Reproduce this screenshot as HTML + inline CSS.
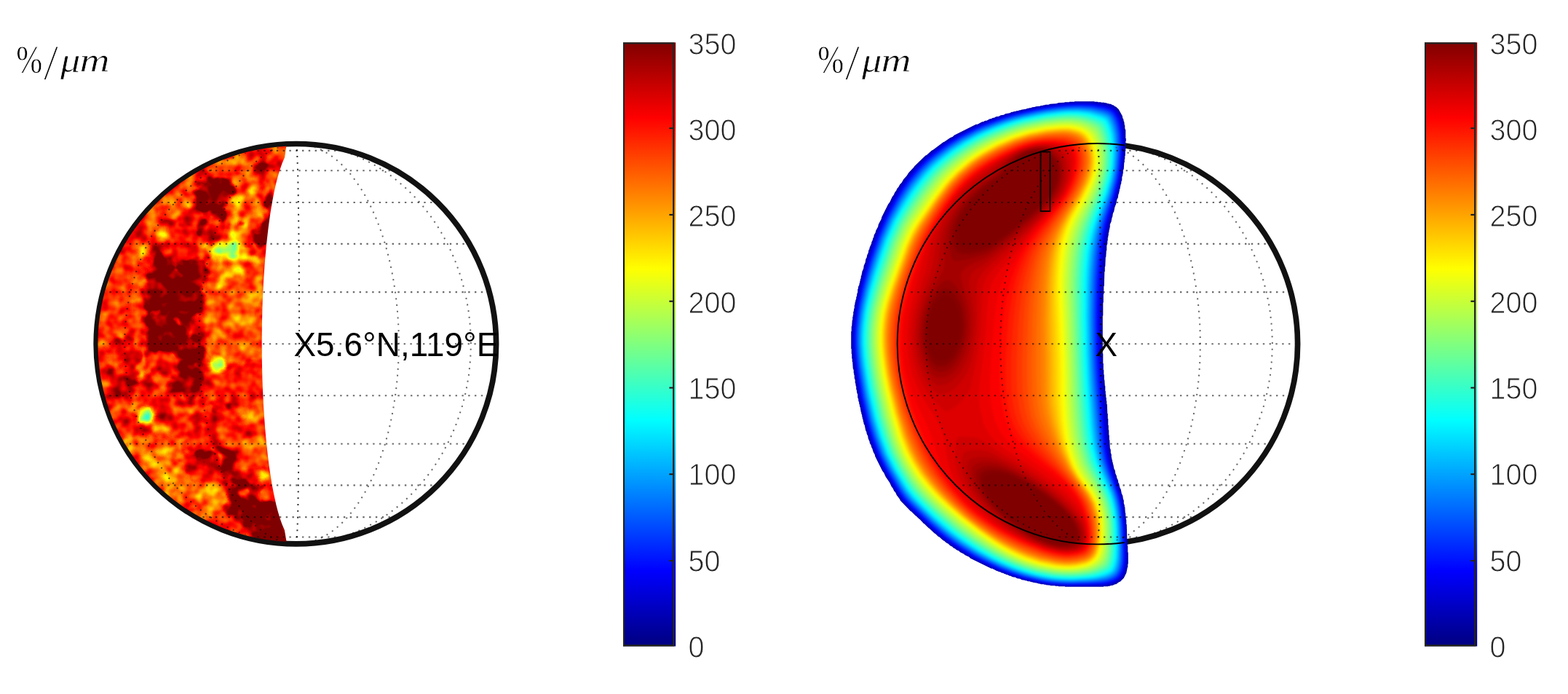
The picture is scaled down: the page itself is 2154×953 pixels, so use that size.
<!DOCTYPE html>
<html lang="en"><head><meta charset="utf-8"><title>Figure</title>
<style>
html,body{margin:0;padding:0;background:#fff}
body{width:2154px;height:953px;overflow:hidden}
svg{display:block}
.gp{stroke-width:2.1px;stroke-dasharray:2.4 6.4;stroke-opacity:.58}
.gm{stroke-width:2px;stroke-dasharray:2 6.8;stroke-opacity:.6}
.gc{stroke-width:2px;stroke-dasharray:2 6.85;stroke-opacity:.82}
.tk{font-family:"Liberation Sans",Arial,Helvetica,sans-serif;font-size:43.2px;fill:#262626;stroke:#fff;stroke-width:1px}
.lb{font-family:"Liberation Sans",Arial,Helvetica,sans-serif;font-size:45.8px;fill:#000;letter-spacing:.15px}
.tx{font-family:"Liberation Serif","DejaVu Serif",serif;fill:#000;stroke:#fff;stroke-width:.7px}
</style></head>
<body>
<svg width="2154" height="953" viewBox="0 0 2154 953">
<defs>
<linearGradient id="jet" x1="0" y1="1" x2="0" y2="0"><stop offset="0" stop-color="#000080"/><stop offset="0.125" stop-color="#0000ff"/><stop offset="0.375" stop-color="#00ffff"/><stop offset="0.625" stop-color="#ffff00"/><stop offset="0.875" stop-color="#ff0000"/><stop offset="1" stop-color="#800000"/></linearGradient>
<linearGradient id="jetb" gradientUnits="userSpaceOnUse" x1="0" y1="887.5" x2="0" y2="58.3"><stop offset="0" stop-color="#262613"/><stop offset="0.125" stop-color="#282808"/><stop offset="0.375" stop-color="#2a1414"/><stop offset="0.625" stop-color="#10102a"/><stop offset="0.875" stop-color="#142a2a"/><stop offset="1" stop-color="#1c2626"/></linearGradient>
<clipPath id="rthin"><rect x="1100" y="0" width="445" height="953"/></clipPath>
<clipPath id="lune"><path d="M393.6 743.7A271.8 271.8 0 0 1 393.3 200.7L391.1 216.0L387.4 224.7L384.4 233.4L381.8 242.0L379.5 250.7L377.5 259.4L375.7 268.1L374.1 276.7L372.6 285.4L371.2 294.1L370.0 302.8L368.8 311.5L367.8 320.1L366.8 328.8L365.9 337.5L365.1 346.2L364.3 354.8L363.6 363.5L363.0 372.2L362.4 380.9L361.9 389.6L361.5 398.2L361.1 406.9L360.7 415.6L360.4 424.3L360.2 432.9L360.0 441.6L359.9 450.3L359.8 459.0L359.7 467.7L359.7 476.3L359.8 485.0L359.8 493.7L360.0 502.4L360.2 511.1L360.4 519.7L360.7 528.4L361.1 537.1L361.5 545.8L361.9 554.4L362.4 563.1L363.0 571.8L363.6 580.5L364.3 589.2L365.0 597.8L365.9 606.5L366.8 615.2L367.7 623.9L368.8 632.5L369.9 641.2L371.2 649.9L372.5 658.6L374.0 667.3L375.7 675.9L377.5 684.6L379.4 693.3L381.7 702.0L384.2 710.6L387.2 719.3L390.9 728.0Z"/></clipPath>
<filter id="lwarp" filterUnits="userSpaceOnUse" x="90" y="160" width="350" height="625" color-interpolation-filters="sRGB"><feGaussianBlur in="SourceGraphic" stdDeviation="2.6" result="b"/><feTurbulence type="fractalNoise" baseFrequency="0.055" numOctaves="2" seed="3" result="w"/><feDisplacementMap in="b" in2="w" scale="24" xChannelSelector="R" yChannelSelector="G"/></filter>
<filter id="lsoft" filterUnits="userSpaceOnUse" x="90" y="160" width="350" height="625" color-interpolation-filters="sRGB"><feGaussianBlur in="SourceGraphic" stdDeviation="2.4" result="b"/><feTurbulence type="fractalNoise" baseFrequency="0.07" numOctaves="1" seed="5" result="w"/><feDisplacementMap in="b" in2="w" scale="6" xChannelSelector="R" yChannelSelector="G"/></filter>
<filter id="lmap" filterUnits="userSpaceOnUse" x="90" y="160" width="350" height="625" color-interpolation-filters="sRGB"><feTurbulence type="fractalNoise" baseFrequency="0.06" numOctaves="2" seed="11" result="t"/><feColorMatrix in="t" type="matrix" values="1 0 0 0 0 1 0 0 0 0 1 0 0 0 0 0 0 0 0 1" result="n"/><feComposite in="SourceGraphic" in2="n" operator="arithmetic" k1="0" k2="1" k3="0.25" k4="-0.125" result="s"/><feComponentTransfer in="s"><feFuncR type="table" tableValues="0 0 0 0 0 0 0 0 0 0 0 0 0 0.125 0.25 0.375 0.5 0.625 0.75 0.875 1 1 1 1 1 1 1 1 1 0.875 0.75 0.625 0.5 0.5 0.5 0.5 0.5 0.5 0.5 0.5 0.5 0.5 0.5 0.5 0.5 0.5 0.5 0.5 0.5"/><feFuncG type="table" tableValues="0 0 0 0 0 0.125 0.25 0.375 0.5 0.625 0.75 0.875 1 1 1 1 1 1 1 1 1 0.875 0.75 0.625 0.5 0.375 0.25 0.125 0 0 0 0 0 0 0 0 0 0 0 0 0 0 0 0 0 0 0 0 0"/><feFuncB type="table" tableValues="0.5 0.625 0.75 0.875 1 1 1 1 1 1 1 1 1 0.875 0.75 0.625 0.5 0.375 0.25 0.125 0 0 0 0 0 0 0 0 0 0 0 0 0 0 0 0 0 0 0 0 0 0 0 0 0 0 0 0 0"/></feComponentTransfer></filter>
<clipPath id="rclip"><path d="M1476.2 139.2l27 0 .6 .5 4 0 .4 .5 4 0 .6 .5 4 0 .4 .5 2 0 2.6 1 1.4 0 .6 .5 2 0 2.4 1.5 1 0 2.6 2 1.4 .5 3.6 3.5 5 9 .5 3 1 1.6 .5 3 .5 .4 .5 4.6 .5 .4 0 4 1 2.6 0 11 .5 .4 0 1.6 0 2-.5 .4 0 13-.5 .6 0 6-.5 .4 0 4-.5 .6 0 4-.5 .4-.5 8.6-1 2.4 0 4-.5 .6 0 2-1 2.4 0 4-1 2.6 0 2-1 2.4 0 1.6-.5 .4 0 2-1 2.6 0 2-.5 .4 0 1.6-1 2.4-.5 4-1.5 3-1 5.6-2 5-1 5.4-1.5 3-.5 4-1 2.6 0 1.4-.5 .6 0 2-2 4.4 0 4-.5 .6 0 2-.5 .4-.5 4-.5 .6 0 3.4-.5 .6 0 2-.5 .4 0 4-.5 .6 0 4-1 2.4 0 6.6-.5 .4-.5 8.6-.5 .4-.5 12.6-.5 .4 0 6.6-.5 .4-.5 19.6-.5 .4 0 10.6-.5 .4 0 11-.5 .6 0 17.4-.5 .6 0 51.4 .5 .6 0 13 .5 .4 0 8.6 .5 .4 0 6 .5 .6 0 6.4 .5 .6 .5 8 .5 .4 0 6.6 .5 .4 0 4 .5 .6 0 4 .5 .4 0 4 .5 .6 0 4 .5 .4 .5 12.6 .5 .4 0 6.6 .5 .4 0 8.6 .5 .4 0 6 .5 .6 0 6.4 .5 .6 0 6 .5 .4 .5 11 1 2.6 0 4 1 2.4 0 4 .5 .6 0 2 .5 .4 .5 3.6 .5 .4 0 2 .5 .6 1 5.4 1.5 3 .5 4 1.5 3 .5 3 1.5 3 .5 3.6 1 1.4 1 5 1.5 3 1 5.6 1.5 3 .5 4 1 2.4 0 4 1 2.6 0 2 .5 .4 .5 8 .5 .6 0 4 .5 .4 0 4 .5 .6 0 6 .5 .4 .5 20 .5 .6 0 8.4 .5 .6 0 8.4 .5 .6 0 15.4-.5 .6 0 4-.5 .4-1.5 7.6-3.5 7-5 5-1.6 .5-4 3-1.4 0-3 1.5-3.6 .5-.4 .5-2 0-.6 .5-6 0-.4 .5-52.6 0-.4-.5-8.6 0-.4-.5-4 0-.6-.5-6 0-.4-.5-6-.5-.6-.5-2 0-.4-.5-4 0-.6-.5-3.4-.5-.6-.5-6.4-1-.6-.5-1.4 0-2.6-1-2 0-2.4-1-1.6 0-.4-.5-4-.5-2.6-1.5-4-.5-2.4-1.5-4-.5-2.6-1.5-1.4 0-2.6-1.5-1.4 0-1.6-1-1 0-2.4-1.5-1.6 0-2.4-1.5-1.6 0-1.4-1-1 0-6.6-3.5-1.4 0-28.6-14-2-2-5.4-2.5-2.6-2-3.4-1.5-3-2.5-2.6-1-2.4-2-1.6-.5-2-2-3-1.5-2.4-2.5-3-1.5-2.6-2.5-1.4-.5-5.6-5-1.4-.5-4-4-.6 0-8-7.5-.4 0-6-6-.6 0-6-6.5-.4 0-4.6-4.5-.4 0-6-6-.6 0-14.5-15.1-.5-1.4-4.5-6-1.5-3.6-2-2-1.5-3.4-2-2.6-2.5-5.4-5.5-8-2.5-5.6-2-2.4-10-20-.5-2.6-2-3.4-1.5-5-1-1.6-.5-2.4-2-3.6 0-1.4-2-4.6-.5-3.4-1.5-3-.5-3-1-1.6-1.5-7.4-1-1.6-.5-3-.5-.4 0-2-1-2.6 0-1.4-.5-.6 0-2-1-2.4 0-1.6-.5-.4-1-6.6-.5-.4-.5-3.6-.5-.4 0-2-1-2.6 0-2-1-2.4 0-4-1-2.6-.5-4-.5-.4 0-4-.5-.6-.5-4-.5-.4 0-4-1-2.6 0-4-.5-.4 0-2-.5-.6 0-4-1-2.4-.5-8.6-.5-.4 0-4-.5-.6 0-6-.5-.4 0-6.6-.5-.4 0-23.6 .5-.4 0-6.6 .5-.4 .5-8 .5-.6 0-4 .5-.4 0-2 .5-.6 0-4 .5-.4 .5-4 .5-.6 0-4 .5-.4 .5-4 .5-.6 0-1.4 1-2.6 0-2 1-2.4 0-2 1-2.6 0-4 .5-.4 .5-3.6 1-1.4 .5-3 .5-.6 0-2 .5-.4 0-1.6 1-2.4 0-2 1-2.6 0-1.4 .5-.6 0-2 2-4.4 .5-4 2-4.6 .5-4 1.5-3 .5-3 1.5-3 .5-3.4 1-1.6 .5-2.4 2.5-5.6 0-1.4 1.5-3 .5-2.6 1-1.4 .5-3 2-3.6 .5-2.4 3-5.6 .5-3 4-7.4 .5-2.6 9-18 2-2.4 3.5-7.6 2-2.4 1.5-3.6 2-2.4 1-2.6 2.5-3 1.5-3 2.5-2.4 2.5-4.6 4.5-5 2.5-4 7.5-8 0-.4 15.5-15.1 2-1 6.6-6 2-1 14-10.5 1.4-.5 8-5.5 3.6-1.5 2-2 30-15 2 0 6.4-3.5 1.6 0 2.4-1.5 2 0 4.6-2.5 1.4 0 3-1.5 1.6 0 2.4-1.5 4-.5 2.6-1.5 4-.5 2.4-1.5 6-1 2.6-1.5 2 0 .4-.5 3.6-.5 .4-.5 2 0 2.6-1 1.4 0 .6-.5 6.4-1 2.6-1 1.4 0 .6-.5 2 0 2.4-1 4-.5 .6-.5 6-.5 .4-.5 4-.5 .6-.5 2 0 .4-.5 4 0 2.6-1 8.4-.5 2.6-1 8.4-.5 .6-.5 6 0 .4-.5 6.6 0z"/></clipPath>
<filter id="rblur" filterUnits="userSpaceOnUse" x="1140" y="110" width="440" height="730" color-interpolation-filters="sRGB"><feGaussianBlur stdDeviation="1.6"/></filter>
</defs>
<rect width="100%" height="100%" fill="#fff"/>
<g id="left">
<circle cx="406.9" cy="472.2" r="274.7" fill="none" stroke="#111" stroke-width="7.7"/>
<g clip-path="url(#lune)"><g filter="url(#lmap)"><g filter="url(#lwarp)">
<rect x="60" y="130" width="410" height="685" fill="#959595"/>
<circle cx="406.9" cy="472.2" r="260.7" fill="none" stroke="#8d8d8d" stroke-width="30" stroke-opacity=".6"/>
<path fill="#878787" d="M286.9 352.0L360.3 347.6L363.2 470.0L281.0 470.0L276.6 432.8L281.0 396.1Z"/>
<ellipse cx="323.6" cy="421.1" rx="30.0" ry="38.0" fill="#858585"/>
<path fill="#898989" d="M279.2 465.0L361.5 465.0L361.5 498.8L311.6 498.8L282.2 482.6Z"/>
<ellipse cx="340.9" cy="485.6" rx="18.0" ry="11.0" fill="#838383"/>
<path fill="#909090" d="M282.2 509.1L361.5 509.1L364.4 605.0L282.2 605.0Z"/>
<path fill="#8c8c8c" d="M140.0 403.4L162.0 352.0L184.1 330.0L201.7 330.0L198.7 366.7L195.8 418.1L198.7 470.0L140.0 470.0Z"/>
<path fill="#9b9b9b" d="M150.0 465.0L188.2 465.0L191.1 509.1L188.2 541.4L179.4 547.2L150.0 547.2Z"/>
<ellipse cx="194.1" cy="501.7" rx="7.0" ry="18.0" fill="#818181"/>
<ellipse cx="219.0" cy="520.8" rx="13.0" ry="11.0" fill="#868686"/>
<path fill="#8a8a8a" d="M216.7 283.1L253.4 250.8L297.5 224.4L326.9 211.2L341.6 212.6L326.9 243.5L274.0 243.5L262.2 277.2L241.7 297.8L216.7 306.6Z"/>
<path fill="#888888" d="M321.0 243.5L369.5 243.5L368.0 335.0L304.8 335.0L312.2 289.0Z"/>
<path fill="#818181" d="M175.0 600.0L257.2 600.0L251.4 636.7L269.0 661.7L307.2 670.5L311.6 691.1L286.6 711.6L257.2 695.5L219.1 663.2L192.6 633.8L175.0 613.2Z"/>
<ellipse cx="348.3" cy="625.0" rx="22.0" ry="24.0" fill="#898989"/>
<path fill="#aeaeae" d="M274.0 253.7L285.7 244.9L309.2 243.5L319.5 253.7L318.1 268.4L312.2 277.2L309.2 289.0L303.4 300.7L291.6 297.8L288.7 289.0L276.9 286.1L269.6 277.2L269.6 264.0Z"/>
<path fill="#aeaeae" d="M274.0 297.8L282.8 296.3L287.2 306.6L285.7 319.8L276.9 322.8L271.1 316.9L271.1 306.6Z"/>
<path fill="#aeaeae" d="M366.5 264.0L379.7 264.0L378.3 283.1L376.8 312.5L375.3 335.0L353.3 335.0L348.9 324.2L356.2 309.6L364.3 297.8L366.5 283.1Z"/>
<path fill="#aaaaaa" d="M350.4 220.0L365.0 221.4L370.9 228.8L365.0 233.2L353.3 231.7L348.9 225.8Z"/>
<ellipse cx="249.0" cy="306.6" rx="6.0" ry="4.0" fill="#a6a6a6"/>
<ellipse cx="331.3" cy="306.6" rx="8.0" ry="6.0" fill="#a4a4a4"/>
<path fill="#aeaeae" d="M206.1 341.7L222.2 340.3L228.1 359.4L242.8 363.8L257.5 352.0L279.5 353.5L283.9 374.1L279.5 396.1L276.6 418.1L272.2 432.8L261.9 441.6L257.5 462.2L256.0 471.0L204.6 471.0L201.7 447.5L197.3 425.5L198.7 403.4L203.2 381.4L204.6 359.4Z"/>
<path fill="#aeaeae" d="M204.3 463.5L271.9 463.5L282.2 473.8L276.3 482.6L273.4 501.7L276.3 523.7L274.8 541.4L252.8 544.3L238.1 535.5L235.2 523.7L249.9 514.9L252.8 494.4L244.0 482.6L208.7 481.2L202.9 473.8Z"/>
<ellipse cx="296.9" cy="557.5" rx="8.0" ry="7.0" fill="#a6a6a6"/>
<ellipse cx="318.9" cy="553.1" rx="6.0" ry="6.0" fill="#a4a4a4"/>
<ellipse cx="182.3" cy="523.7" rx="10.0" ry="8.0" fill="#a3a3a3"/>
<ellipse cx="245.7" cy="347.6" rx="18.0" ry="9.0" fill="#919191"/>
<ellipse cx="244.3" cy="441.6" rx="7.0" ry="6.0" fill="#8e8e8e"/>
<ellipse cx="210.5" cy="431.3" rx="8.0" ry="5.0" fill="#919191"/>
<ellipse cx="242.8" cy="372.6" rx="6.0" ry="4.0" fill="#959595"/>
<path fill="#aeaeae" d="M261.7 623.5L271.9 619.1L292.5 620.6L298.4 626.4L292.5 633.8L270.5 634.5L263.1 630.8Z"/>
<path fill="#aeaeae" d="M296.9 611.7L307.2 610.3L316.0 626.4L323.3 638.2L324.8 649.9L316.0 658.7L307.2 655.8L302.8 644.1L304.2 629.4Z"/>
<path fill="#aeaeae" d="M318.9 661.7L336.6 658.7L351.2 663.2L360.0 673.4L370.3 688.1L383.5 689.6L395.3 714.6L404.1 746.9L351.2 746.9L343.9 729.2L329.2 717.5L316.0 702.8L313.1 682.2Z"/>
<ellipse cx="335.1" cy="680.8" rx="5.0" ry="5.0" fill="#959595"/>
</g><g filter="url(#lsoft)">
<path d="M313.8 344.8L354.8 277.2" stroke="#777777" stroke-width="7" stroke-linecap="round"/>
<path d="M313.8 344.8L328.3 277.2" stroke="#777777" stroke-width="7" stroke-linecap="round"/>
<path d="M313.8 344.8L306.0 391.7" stroke="#777777" stroke-width="9" stroke-linecap="round"/>
<path d="M313.8 344.8L335.3 378.5" stroke="#777777" stroke-width="6" stroke-linecap="round"/>
<path d="M313.8 344.8L281.0 338.8" stroke="#777777" stroke-width="10" stroke-linecap="round"/>
<path d="M313.8 344.8L353.0 359.4" stroke="#777777" stroke-width="6" stroke-linecap="round"/>
<path d="M313.8 344.8L298.6 374.1" stroke="#777777" stroke-width="6" stroke-linecap="round"/>
<ellipse cx="313.8" cy="344.8" rx="29.0" ry="15.0" fill="#717171"/>
<ellipse cx="307.8" cy="345.8" rx="12.0" ry="8.0" fill="#6a6a6a"/>
<ellipse cx="313.8" cy="344.8" rx="15.0" ry="11.0" fill="#5b5b5b"/>
<ellipse cx="222.6" cy="321.3" rx="10.8" ry="10.8" fill="#848484"/>
<ellipse cx="222.6" cy="321.3" rx="6.0" ry="6.0" fill="#6b6b6b"/>
<ellipse cx="348.9" cy="261.1" rx="10.8" ry="10.8" fill="#848484"/>
<ellipse cx="348.9" cy="261.1" rx="6.0" ry="6.0" fill="#717171"/>
<ellipse cx="331.3" cy="220.0" rx="10.8" ry="10.8" fill="#848484"/>
<ellipse cx="331.3" cy="220.0" rx="6.0" ry="6.0" fill="#818181"/>
<ellipse cx="328.3" cy="277.2" rx="9.0" ry="9.0" fill="#848484"/>
<ellipse cx="328.3" cy="277.2" rx="5.0" ry="5.0" fill="#787878"/>
<ellipse cx="353.3" cy="287.5" rx="9.0" ry="9.0" fill="#848484"/>
<ellipse cx="353.3" cy="287.5" rx="5.0" ry="5.0" fill="#808080"/>
<ellipse cx="257.8" cy="277.2" rx="9.0" ry="9.0" fill="#848484"/>
<ellipse cx="257.8" cy="277.2" rx="5.0" ry="5.0" fill="#777777"/>
<ellipse cx="224.1" cy="277.2" rx="9.0" ry="9.0" fill="#848484"/>
<ellipse cx="224.1" cy="277.2" rx="5.0" ry="5.0" fill="#727272"/>
<ellipse cx="194.3" cy="349.1" rx="10.8" ry="10.8" fill="#848484"/>
<ellipse cx="194.3" cy="349.1" rx="6.0" ry="6.0" fill="#737373"/>
<ellipse cx="191.4" cy="387.3" rx="10.8" ry="10.8" fill="#848484"/>
<ellipse cx="191.4" cy="387.3" rx="6.0" ry="6.0" fill="#777777"/>
<ellipse cx="176.7" cy="412.2" rx="9.0" ry="9.0" fill="#848484"/>
<ellipse cx="176.7" cy="412.2" rx="5.0" ry="5.0" fill="#7a7a7a"/>
<ellipse cx="353.0" cy="418.1" rx="9.0" ry="9.0" fill="#848484"/>
<ellipse cx="353.0" cy="418.1" rx="5.0" ry="5.0" fill="#757575"/>
<ellipse cx="298.3" cy="500.2" rx="12.5" ry="12.5" fill="#6c6c6c"/>
<ellipse cx="298.3" cy="500.2" rx="7.5" ry="7.5" fill="#5c5c5c"/>
<ellipse cx="201.4" cy="570.7" rx="12.5" ry="12.5" fill="#6c6c6c"/>
<ellipse cx="201.4" cy="570.7" rx="7.5" ry="8.0" fill="#585858"/>
<ellipse cx="340.9" cy="570.0" rx="12.6" ry="12.6" fill="#848484"/>
<ellipse cx="340.9" cy="570.0" rx="7.0" ry="7.0" fill="#6d6d6d"/>
<ellipse cx="260.1" cy="561.9" rx="22.0" ry="6.0" fill="#838383"/>
<ellipse cx="220.5" cy="586.9" rx="10.8" ry="10.8" fill="#848484"/>
<ellipse cx="220.5" cy="586.9" rx="6.0" ry="6.0" fill="#828282"/>
<ellipse cx="182.3" cy="559.0" rx="9.0" ry="9.0" fill="#848484"/>
<ellipse cx="182.3" cy="559.0" rx="5.0" ry="5.0" fill="#777777"/>
<ellipse cx="157.3" cy="494.4" rx="10.8" ry="10.8" fill="#848484"/>
<ellipse cx="157.3" cy="494.4" rx="6.0" ry="6.0" fill="#838383"/>
<ellipse cx="361.5" cy="652.9" rx="10.8" ry="10.8" fill="#848484"/>
<ellipse cx="361.5" cy="652.9" rx="6.0" ry="6.0" fill="#6c6c6c"/>
<ellipse cx="361.5" cy="680.8" rx="9.0" ry="9.0" fill="#848484"/>
<ellipse cx="361.5" cy="680.8" rx="5.0" ry="5.0" fill="#767676"/>
<ellipse cx="233.7" cy="673.4" rx="12.6" ry="12.6" fill="#848484"/>
<ellipse cx="233.7" cy="673.4" rx="7.0" ry="7.0" fill="#707070"/>
<ellipse cx="201.4" cy="627.9" rx="10.8" ry="10.8" fill="#848484"/>
<ellipse cx="201.4" cy="627.9" rx="6.0" ry="6.0" fill="#757575"/>
<ellipse cx="233.7" cy="614.7" rx="10.8" ry="10.8" fill="#848484"/>
<ellipse cx="233.7" cy="614.7" rx="6.0" ry="6.0" fill="#767676"/>
<ellipse cx="242.6" cy="644.1" rx="10.8" ry="10.8" fill="#848484"/>
<ellipse cx="242.6" cy="644.1" rx="6.0" ry="6.0" fill="#777777"/>
<ellipse cx="296.9" cy="672.0" rx="10.8" ry="10.8" fill="#848484"/>
<ellipse cx="296.9" cy="672.0" rx="6.0" ry="6.0" fill="#787878"/>
<ellipse cx="273.4" cy="685.2" rx="10.8" ry="10.8" fill="#848484"/>
<ellipse cx="273.4" cy="685.2" rx="6.0" ry="6.0" fill="#797979"/>
<ellipse cx="182.3" cy="614.7" rx="9.0" ry="9.0" fill="#848484"/>
<ellipse cx="182.3" cy="614.7" rx="5.0" ry="5.0" fill="#767676"/>
</g></g></g>
<clipPath id="gc406"><circle cx="406.9" cy="472.2" r="271.1"/></clipPath><g fill="none" stroke="#000" clip-path="url(#gc406)"><path class="gp" d="M335.8 737.5H478.0"/><path class="gp" d="M269.5 710.1H544.2"/><path class="gp" d="M212.7 666.4H601.1"/><path class="gp" d="M169.0 609.5H644.8"/><path class="gp" d="M141.6 543.3H672.2"/><path class="gp" d="M132.2 472.2H681.6"/><path class="gp" d="M141.6 401.1H672.2"/><path class="gp" d="M169.0 334.9H644.8"/><path class="gp" d="M212.7 278.0H601.1"/><path class="gp" d="M269.5 234.3H544.2"/><path class="gp" d="M335.8 206.9H478.0"/><path class="gm" d="M406.9 746.9L394.6 746.5L382.3 745.4L370.0 743.5L357.9 740.9L345.9 737.5L334.0 733.5L322.4 728.7L311.0 723.2L299.9 717.0L289.0 710.1L278.5 702.6L268.3 694.4L258.5 685.7L249.1 676.3L240.2 666.4L231.7 656.0L223.7 645.1L216.1 633.7L209.2 621.8L202.7 609.5L196.8 596.9L191.5 583.9L186.8 570.6L182.7 557.1L179.1 543.3L176.3 529.3L174.0 515.2L172.4 500.9L171.4 486.6L171.1 472.2L171.4 457.8L172.4 443.5L174.0 429.2L176.3 415.1L179.1 401.1L182.7 387.3L186.8 373.8L191.5 360.5L196.8 347.5L202.7 334.9L209.2 322.6L216.1 310.7L223.7 299.3L231.7 288.4L240.2 278.0L249.1 268.1L258.5 258.7L268.3 250.0L278.5 241.8L289.0 234.3L299.9 227.4L311.0 221.2L322.4 215.7L334.0 210.9L345.9 206.9L357.9 203.5L370.0 200.9L382.3 199.0L394.6 197.9L406.9 197.5"/><path class="gm" d="M406.9 746.9L399.9 746.5L392.9 745.4L386.0 743.5L379.1 740.9L372.3 737.5L365.6 733.5L359.0 728.7L352.5 723.2L346.2 717.0L340.0 710.1L334.1 702.6L328.3 694.4L322.7 685.7L317.4 676.3L312.3 666.4L307.5 656.0L303.0 645.1L298.7 633.7L294.8 621.8L291.1 609.5L287.8 596.9L284.7 583.9L282.1 570.6L279.7 557.1L277.7 543.3L276.1 529.3L274.8 515.2L273.9 500.9L273.4 486.6L273.2 472.2L273.4 457.8L273.9 443.5L274.8 429.2L276.1 415.1L277.7 401.1L279.7 387.3L282.1 373.8L284.7 360.5L287.8 347.5L291.1 334.9L294.8 322.6L298.7 310.7L303.0 299.3L307.5 288.4L312.3 278.0L317.4 268.1L322.7 258.7L328.3 250.0L334.1 241.8L340.0 234.3L346.2 227.4L352.5 221.2L359.0 215.7L365.6 210.9L372.3 206.9L379.1 203.5L386.0 200.9L392.9 199.0L399.9 197.9L406.9 197.5"/><path class="gc" d="M406.9 746.9L407.1 746.5L407.3 745.4L407.6 743.5L407.8 740.9L408.0 737.5L408.2 733.5L408.4 728.7L408.6 723.2L408.8 717.0L409.0 710.1L409.2 702.6L409.4 694.4L409.5 685.7L409.7 676.3L409.8 666.4L410.0 656.0L410.1 645.1L410.3 633.7L410.4 621.8L410.5 609.5L410.6 596.9L410.7 583.9L410.8 570.6L410.9 557.1L410.9 543.3L411.0 529.3L411.0 515.2L411.0 500.9L411.1 486.6L411.1 472.2L411.1 457.8L411.0 443.5L411.0 429.2L411.0 415.1L410.9 401.1L410.9 387.3L410.8 373.8L410.7 360.5L410.6 347.5L410.5 334.9L410.4 322.6L410.3 310.7L410.1 299.3L410.0 288.4L409.8 278.0L409.7 268.1L409.5 258.7L409.4 250.0L409.2 241.8L409.0 234.3L408.8 227.4L408.6 221.2L408.4 215.7L408.2 210.9L408.0 206.9L407.8 203.5L407.6 200.9L407.3 199.0L407.1 197.9L406.9 197.5"/><path class="gm" d="M406.9 746.9L414.3 746.5L421.6 745.4L428.9 743.5L436.2 740.9L443.4 737.5L450.5 733.5L457.4 728.7L464.2 723.2L470.9 717.0L477.4 710.1L483.7 702.6L489.7 694.4L495.6 685.7L501.2 676.3L506.6 666.4L511.6 656.0L516.4 645.1L520.9 633.7L525.1 621.8L529.0 609.5L532.5 596.9L535.7 583.9L538.5 570.6L540.9 557.1L543.0 543.3L544.8 529.3L546.1 515.2L547.1 500.9L547.7 486.6L547.8 472.2L547.7 457.8L547.1 443.5L546.1 429.2L544.8 415.1L543.0 401.1L540.9 387.3L538.5 373.8L535.7 360.5L532.5 347.5L529.0 334.9L525.1 322.6L520.9 310.7L516.4 299.3L511.6 288.4L506.6 278.0L501.2 268.1L495.6 258.7L489.7 250.0L483.7 241.8L477.4 234.3L470.9 227.4L464.2 221.2L457.4 215.7L450.5 210.9L443.4 206.9L436.2 203.5L428.9 200.9L421.6 199.0L414.3 197.9L406.9 197.5"/><path class="gm" d="M406.9 746.9L419.5 746.5L432.0 745.4L444.4 743.5L456.8 740.9L469.0 737.5L481.1 733.5L492.9 728.7L504.5 723.2L515.8 717.0L526.9 710.1L537.6 702.6L547.9 694.4L557.9 685.7L567.5 676.3L576.6 666.4L585.2 656.0L593.4 645.1L601.0 633.7L608.1 621.8L614.7 609.5L620.7 596.9L626.1 583.9L630.9 570.6L635.1 557.1L638.7 543.3L641.6 529.3L643.9 515.2L645.5 500.9L646.5 486.6L646.9 472.2L646.5 457.8L645.5 443.5L643.9 429.2L641.6 415.1L638.7 401.1L635.1 387.3L630.9 373.8L626.1 360.5L620.7 347.5L614.7 334.9L608.1 322.6L601.0 310.7L593.4 299.3L585.2 288.4L576.6 278.0L567.5 268.1L557.9 258.7L547.9 250.0L537.6 241.8L526.9 234.3L515.8 227.4L504.5 221.2L492.9 215.7L481.1 210.9L469.0 206.9L456.8 203.5L444.4 200.9L432.0 199.0L419.5 197.9L406.9 197.5"/></g>
<text x="403.4" y="489.3" class="lb">X5.6°N,119°E</text>
<text class="tx" font-size="50" font-style="normal" transform="translate(22.15 99.6) scale(0.862 1.094)">%</text><text class="tx" font-size="50" font-style="italic" transform="translate(62.40 107.9) scale(0.974 1.337)">/</text><text class="tx" font-size="50" font-style="italic" transform="translate(83.00 98.7) scale(1.09 0.955)">μ</text><text class="tx" font-size="50" font-style="italic" transform="translate(109.60 98.2) scale(1.14 0.911)">m</text>
<rect x="856.0" y="58.3" width="72.2" height="829.2" fill="url(#jet)"/><rect x="857.0" y="59.349999999999994" width="68.2" height="827.1" fill="none" stroke="url(#jetb)" stroke-width="2.1"/><text transform="translate(945.6 903.1) scale(.915 1)" class="tk">0</text><path d="M919.4 770.0h5" stroke="url(#jetb)" stroke-width="2.1"/><text transform="translate(945.6 784.8) scale(.915 1)" class="tk">50</text><path d="M919.4 651.2h5" stroke="url(#jetb)" stroke-width="2.1"/><text transform="translate(945.6 666.4) scale(.915 1)" class="tk">100</text><path d="M919.4 532.5h5" stroke="url(#jetb)" stroke-width="2.1"/><text transform="translate(945.6 548.0) scale(.915 1)" class="tk">150</text><path d="M919.4 413.7h5" stroke="url(#jetb)" stroke-width="2.1"/><text transform="translate(945.6 429.6) scale(.915 1)" class="tk">200</text><path d="M919.4 294.9h5" stroke="url(#jetb)" stroke-width="2.1"/><text transform="translate(945.6 311.3) scale(.915 1)" class="tk">250</text><path d="M919.4 176.1h5" stroke="url(#jetb)" stroke-width="2.1"/><text transform="translate(945.6 192.9) scale(.915 1)" class="tk">300</text><text transform="translate(945.6 74.5) scale(.915 1)" class="tk">350</text></g>
<g id="right">
<circle cx="1507.9" cy="472.2" r="274.7" fill="none" stroke="#111" stroke-width="7.7"/>
<g id="rheat" clip-path="url(#rclip)"><g filter="url(#rblur)" fill-rule="evenodd">
<rect x="1130" y="100" width="460" height="750" fill="#000095"/>
<path fill="#0000a4" d="M1476.2 139.2l27 0 .6 .5 4 0 .4 .5 4 0 .6 .5 4 0 .4 .5 2 0 2.6 1 1.4 0 .6 .5 2 0 2.4 1.5 1 0 2.6 2 1.4 .5 3.6 3.5 5 9 .5 3 1 1.6 .5 3 .5 .4 .5 4.6 .5 .4 0 4 1 2.6 0 11 .5 .4 0 1.6 0 2-.5 .4 0 13-.5 .6 0 6-.5 .4 0 4-.5 .6 0 4-.5 .4-.5 8.6-1 2.4 0 4-.5 .6 0 2-1 2.4 0 4-1 2.6 0 2-1 2.4 0 1.6-.5 .4 0 2-1 2.6 0 2-.5 .4 0 1.6-1 2.4-.5 4-1.5 3-1 5.6-2 5-1 5.4-1.5 3-.5 4-1 2.6 0 1.4-.5 .6 0 2-2 4.4 0 4-.5 .6 0 2-.5 .4-.5 4-.5 .6 0 3.4-.5 .6 0 2-.5 .4 0 4-.5 .6 0 4-1 2.4 0 6.6-.5 .4-.5 8.6-.5 .4-.5 12.6-.5 .4 0 6.6-.5 .4-.5 19.6-.5 .4 0 10.6-.5 .4 0 11-.5 .6 0 17.4-.5 .6 0 51.4 .5 .6 0 13 .5 .4 0 8.6 .5 .4 0 6 .5 .6 0 6.4 .5 .6 .5 8 .5 .4 0 6.6 .5 .4 0 4 .5 .6 0 4 .5 .4 0 4 .5 .6 0 4 .5 .4 .5 12.6 .5 .4 0 6.6 .5 .4 0 8.6 .5 .4 0 6 .5 .6 0 6.4 .5 .6 0 6 .5 .4 .5 11 1 2.6 0 4 1 2.4 0 4 .5 .6 0 2 .5 .4 .5 3.6 .5 .4 0 2 .5 .6 1 5.4 1.5 3 .5 4 1.5 3 .5 3 1.5 3 .5 3.6 1 1.4 1 5 1.5 3 1 5.6 1.5 3 .5 4 1 2.4 0 4 1 2.6 0 2 .5 .4 .5 8 .5 .6 0 4 .5 .4 0 4 .5 .6 0 6 .5 .4 .5 20 .5 .6 0 8.4 .5 .6 0 8.4 .5 .6 0 15.4-.5 .6 0 4-.5 .4-1.5 7.6-3.5 7-5 5-1.6 .5-4 3-1.4 0-3 1.5-3.6 .5-.4 .5-2 0-.6 .5-6 0-.4 .5-52.6 0-.4-.5-8.6 0-.4-.5-4 0-.6-.5-6 0-.4-.5-6-.5-.6-.5-2 0-.4-.5-4 0-.6-.5-3.4-.5-.6-.5-6.4-1-.6-.5-1.4 0-2.6-1-2 0-2.4-1-1.6 0-.4-.5-4-.5-2.6-1.5-4-.5-2.4-1.5-4-.5-2.6-1.5-1.4 0-2.6-1.5-1.4 0-1.6-1-1 0-2.4-1.5-1.6 0-2.4-1.5-1.6 0-1.4-1-1 0-6.6-3.5-1.4 0-28.6-14-2-2-5.4-2.5-2.6-2-3.4-1.5-3-2.5-2.6-1-2.4-2-1.6-.5-2-2-3-1.5-2.4-2.5-3-1.5-2.6-2.5-1.4-.5-5.6-5-1.4-.5-4-4-.6 0-8-7.5-.4 0-6-6-.6 0-6-6.5-.4 0-4.6-4.5-.4 0-6-6-.6 0-14.5-15.1-.5-1.4-4.5-6-1.5-3.6-2-2-1.5-3.4-2-2.6-2.5-5.4-5.5-8-2.5-5.6-2-2.4-10-20-.5-2.6-2-3.4-1.5-5-1-1.6-.5-2.4-2-3.6 0-1.4-2-4.6-.5-3.4-1.5-3-.5-3-1-1.6-1.5-7.4-1-1.6-.5-3-.5-.4 0-2-1-2.6 0-1.4-.5-.6 0-2-1-2.4 0-1.6-.5-.4-1-6.6-.5-.4-.5-3.6-.5-.4 0-2-1-2.6 0-2-1-2.4 0-4-1-2.6-.5-4-.5-.4 0-4-.5-.6-.5-4-.5-.4 0-4-1-2.6 0-4-.5-.4 0-2-.5-.6 0-4-1-2.4-.5-8.6-.5-.4 0-4-.5-.6 0-6-.5-.4 0-6.6-.5-.4 0-23.6 .5-.4 0-6.6 .5-.4 .5-8 .5-.6 0-4 .5-.4 0-2 .5-.6 0-4 .5-.4 .5-4 .5-.6 0-4 .5-.4 .5-4 .5-.6 0-1.4 1-2.6 0-2 1-2.4 0-2 1-2.6 0-4 .5-.4 .5-3.6 1-1.4 .5-3 .5-.6 0-2 .5-.4 0-1.6 1-2.4 0-2 1-2.6 0-1.4 .5-.6 0-2 2-4.4 .5-4 2-4.6 .5-4 1.5-3 .5-3 1.5-3 .5-3.4 1-1.6 .5-2.4 2.5-5.6 0-1.4 1.5-3 .5-2.6 1-1.4 .5-3 2-3.6 .5-2.4 3-5.6 .5-3 4-7.4 .5-2.6 9-18 2-2.4 3.5-7.6 2-2.4 1.5-3.6 2-2.4 1-2.6 2.5-3 1.5-3 2.5-2.4 2.5-4.6 4.5-5 2.5-4 7.5-8 0-.4 15.5-15.1 2-1 6.6-6 2-1 14-10.5 1.4-.5 8-5.5 3.6-1.5 2-2 30-15 2 0 6.4-3.5 1.6 0 2.4-1.5 2 0 4.6-2.5 1.4 0 3-1.5 1.6 0 2.4-1.5 4-.5 2.6-1.5 4-.5 2.4-1.5 6-1 2.6-1.5 2 0 .4-.5 3.6-.5 .4-.5 2 0 2.6-1 1.4 0 .6-.5 6.4-1 2.6-1 1.4 0 .6-.5 2 0 2.4-1 4-.5 .6-.5 6-.5 .4-.5 4-.5 .6-.5 2 0 .4-.5 4 0 2.6-1 8.4-.5 2.6-1 8.4-.5 .6-.5 6 0 .4-.5 6.6 0z"/>
<path fill="#0000b2" d="M1477.1 139.2l21.7 .1 7 .7 13.4 2 6.6 1.8 4.4 2.2 3.2 2.2 2.4 2.6 4.7 8 3.1 9.4 2.2 13.6 .5 10.4-.2 13-2 21.6-1.6 11.4-1.2 5-.8 6-4.7 20-11.1 38.6-2.5 12.2-2.6 17.8-3.2 36.4-1.9 43.6-.5 19.4 .1 44 2 39.6 3.6 36 4.1 54.5 2.8 17.9 2.2 9 10.7 34 1.3 5.6 1.2 3 1.7 7 .1 3.4 .5 .6 .8 4.4 .7 8 .4 .8 .1 3.8 .5 .7 0 3.7 .4 1 .1 5.6 .5 .9 .5 19.5 .5 1.6 0 7.4 .4 1.6 .5 10.4-.1 10-.9 7.6-1.8 7-3.1 6.4-3.2 4-5.8 4.4-5.6 2.4-7 1.9-7.7 .9-51.3 0-.4-.5-8.6 0-.4-.5-4 0-.6-.5-6 0-.4-.5-6-.5-.6-.5-2 0-.4-.5-4 0-.6-.5-3.4-.5-.6-.5-2 0-2.4-1-2 0-.6-.5-1.4 0-2.6-1-2 0-2.4-1-1.6 0-.4-.5-4-.5-2.6-1.5-4-.5-2.4-1.5-1.6 0-.4-.5-2 0-2.6-1.5-1.4 0-2.6-1.5-1.4 0-1.6-1-1 0-2.4-1.5-1.6 0-2.4-1.5-1.6 0-9-4.5-2.4-.5-25.6-12.6-4-2.9-11.4-6.4-13.6-8.8-19-14.6-13-11.5-25-23.5-6.6-6.8-5.6-6.4-8.5-13-11.6-19.6-5.3-9.4-8-16-8.6-21.6-8.5-27.4-7.6-33-6.9-42.5-2.6-28.1-.1-17.4 .6-9 1.6-13.6 2.6-17 4.1-18 .7-5 5.7-22 9.8-32 7-19.4 6.5-15.6 5.2-11.4 7.1-14 9.9-17.6 6.4-10 12.3-16.4 8.4-9.7 13.6-13.2 9.4-7.8 16-11.7 17.6-10.9 24-12.1 3.8-1.6 1.2-.1 6.4-3.2 1.6-.3 3.1-1.4 1.3-.1 3.6-1.9 4-1.1 1.7-.9 1.3-.1 2.4-1.3 4-.7 1.6-1 2.4-.5 .6-.4 2-.1 4.4-2 4-.5 2.6-1.4 2-.1 .4-.5 3.6-.5 .4-.5 2 0 2.6-1 1.4 0 .6-.5 2 0 2.4-1 2 0 2.6-1 1.4 0 .6-.5 2 0 2.4-1 2 0 2.6-1 6-.5 .4-.5 4-.5 .6-.5 2 0 .4-.5 4 0 2.6-1 8.4-.5 2.6-1 8.4-.5 .6-.5 6 0 .6-.4 6.4-.1z"/>
<path fill="#0000c1" d="M1477 140.2l21.2 .2 7 .6 14.6 2.4 5.4 1.6 4.6 2.2 3 2.1 2.2 2.5 4.5 8 3 9 2.2 13.5 .4 9.9-.1 13-1.9 21.1-1.7 11.9-1.8 10.6-4.7 20-11.5 39-2.3 11.4-2.8 18.6-3.2 36.4-1.9 43-.5 20 .1 44 2.1 39.6 3.5 36 4.4 56.6 2.6 15.8 2.4 9.7 13.3 42.3 3 15 2.8 26.6 1.8 38.4-.1 9.6-.9 7.4-1.8 7-3.1 6.6-3.3 4-5.7 4.1-6 2.5-6.6 1.6-9 .9-45 .7-23.4-1.8-14.6-2.2-24-5.6-15.4-5-18.6-7.1-12-5.3-23-11.5-16-9.5-13-8.6-19-14.5-13.2-11.7-25-23.6-6.9-7-5.5-6.4-8.5-13-11-18.6-5.6-10-8-16-8.4-21-8.6-28-7.6-33-6.9-42-2.6-28 0-16.9 .6-9.5 1.5-13.6 2.6-16.4 4.9-23.6 5.6-21.4 9.8-32 7-19.6 6.5-15.4 5.2-11.6 6.8-13.4 10-17.6 6.3-10 12.3-16.4 8.7-10 13-12.8 10-8.3 15.6-11.3 17.4-11 24.6-12.4 10.4-4.5 19-7.1 14-4.4 10.6-3 26-6 25.4-4.5 19.6-2.4z"/>
<path fill="#0000d0" d="M1473.3 141.2l7.9-.3 20.6 .6 16 2.4 7 1.9 4 2 3 2 2.3 2.4 4.4 7.6 3.1 9.4 2.2 13.6 .3 22.4-1.8 20.6-1.7 12.4-1.8 10-4.8 20.6-11.5 39-2.4 11.4-2.9 18.6-3.2 36-1.4 32-.9 30.4 .1 45 2 39.6 3.6 36.4 4.2 55.6 2.9 17 2.3 8.9 13.6 43.1 3 15 2.8 26 1.7 39-.2 9-.8 7-2 7.4-2.9 6-3.2 4-5.6 3.9-5.4 2.4-6.6 1.6-9 1.1-45 .7-24-1.8-14-2.2-23.4-5.5-15.6-4.9-19-7.4-11.4-5.1-23.6-11.8-15.4-9.3-13.6-8.9-17.4-13.4-8-6.9-31.1-28.9-6.9-7-5.5-6.6-8.5-13-11.3-19-5.6-10-7.4-15-8.5-21-8.6-28-7.7-33.4-6.8-41.6-2.6-28-.1-17 .6-9.4 1.6-13.6 2.7-17 4.7-22.4 5.7-22 9.9-32 7-19.6 6.2-15 5.2-11.4 7.2-14 9.7-17 6.3-10 12.3-16.6 8.5-9.7 13-12.7 10-8.4 15-11 18-11.3 24-12.2 10.4-4.5 19.6-7.3 14-4.4 11-3.2 20-4.6 11-2.4 19-3.2 15.4-2z"/>
<path fill="#0000de" d="M1476.8 141.8l13.9 0 12.1 .6 15.4 2.5 6.6 1.9 4 2 3 2.3 1.9 2.1 4.2 7.6 3 9.4 2.1 13 .4 19.6-.4 9-1.9 18-2.6 16.4-5.4 23-11.4 38-2.5 12-3 18.6-3.2 36-1.4 32-.8 30.4 .1 45 2 40 3.5 36 4.2 55 3.6 20.4 3 10.6 12.5 38.6 3.1 15.4 2.7 25.6 1.6 39-.1 8.4-1 7.6-1.8 6.9-2.9 6.1-3.1 3.7-5.4 4-6 2.5-6 1.5-9.6 1-43.4 .8-24-1.8-14-2.1-23.6-5.5-15.4-4.9-19.6-7.6-11-4.9-23.4-11.9-15.6-9.2-13.4-9-17.6-13.3-8-6.9-31.4-29.4-6.4-6.6-5.5-6.4-8.6-13-11.2-19-5.6-10-7.4-15-8.4-21-8.6-28-7.6-33-6.9-42-2.6-28 0-16.6 .6-9 1.5-13.4 2.7-17.6 4.8-22.4 5.6-21.6 9.9-32 7-19.4 6.4-15.6 5-11 7.1-14 9.7-17 6.4-10 12.3-16.4 8.7-10 12.5-12.4 10-8.3 15-11.1 18-11.3 23.6-12 11-4.8 19-7.1 14-4.4 10-2.9 23-5.4 9.4-2 19-3.2 19-2.3z"/>
<path fill="#0000ed" d="M1479.8 142.2l19 .5 7 .9 13 2.3 5.4 1.6 4 2.1 4.6 3.9 4.1 7.3 2.9 8.4 2.3 12.6 .6 10.4-.1 13-1.7 20.6-1.7 12-1.8 10.4-4.8 20-11.9 39.6-3.6 18-3.3 26-2.2 31-1.4 34.4-.4 19.6 .2 45 2 39.4 3.4 36 4.4 55.6 3.6 20 3 10.4 12.6 38.6 3.1 15 2.7 26 1.6 41.4-.9 12.6-2.7 9.4-2.1 4-2.3 3-2.9 2.6-4.3 2.6-8.4 2.9-10.6 1.5-45 1-22-1.6-14-2.1-25.4-5.9-15-4.8-19.6-7.6-11-5-20.4-10.3-26.6-16.1-23-17.2-14-12.3-24.4-23.2-10.6-11.1-10.3-15.4-11.3-19-7.6-14-5.4-11-4.1-10-4.4-11.4-5.1-16-3.4-12-7.1-31-5-28.6-3.7-28.4-1.1-14.6 0-15.4 .7-11 2.4-19 6.4-32.6 5.9-22.4 5.2-17.6 11.6-33.4 11.7-27 6.4-12.6 10-17.4 12.8-19.1 7-8.8 8-9.1 12.2-12 9.8-8.2 15.4-11.4 17.6-11 23.4-12 11.6-5 18.4-6.9 22-6.8 32-7.4 13.6-2.5 19-2.6z"/>
<path fill="#0000fb" d="M1471.5 143.2l9.7-.3 19.6 .7 16 2.6 6.4 1.9 3.6 1.6 5 4 4.2 7.1 3.1 9 2.3 13.4 .5 22-1.7 20.6-1.6 12-1.9 10.5-4.8 19.9-11.9 39-3.8 18.6-3.4 26-2.2 31-1.3 34.4-.4 19 .2 45.6 2 40 3.4 35.4 4.3 55 3.8 20.6 3 10.4 12.8 38.6 3.1 15.4 2.7 25.6 1.6 39-.2 8-1 7.4-1.8 7-2.7 5.6-2.9 3.5-5.4 3.9-5.6 2.4-6 1.6-10 1.1-42.4 1-24-1.8-14-2.2-23.6-5.6-15.4-4.9-18.6-7.2-12-5.5-22.4-11.4-16-9.6-13-8.6-18-13.7-8-7-31-29-9.9-10.6-4.4-6-17.1-28-5.6-10.1-7.4-14.9-8.4-21-8.4-27.4-7.7-33.6-6.9-41.4-2.6-28 0-16 .6-9.6 1.5-13.4 2.7-17 4.7-22.6 5.8-22 10-32 7-19.4 6.2-15 5-11 6.9-13.6 9.8-17 6.4-10 12.3-16.4 8.1-9.6 12.8-12.6 10-8.4 15-11.1 18-11.3 23-11.9 11-4.8 26.6-9.6 15.4-4.7 12-2.9 19.6-4.3 13-2.4 19.4-2.7z"/>
<path fill="#000bff" d="M1474.2 143.8l8-.3 18.6 .8 15.4 2.6 6.6 1.9 3.4 1.6 4.9 3.8 3.9 6.6 3.1 8.4 2.4 12.6 .6 10 .1 13-1.6 20.4-1.7 12.6-1.9 10.4-4.9 20-12 39-3.8 18.6-3.5 26-2.2 31-1.2 34-.4 19.4 .2 45.6 2 40 7.7 91 3.8 20 3.2 11 12.8 38 3.1 15 2.8 26 1.5 40.4-1 12.6-2.5 9.4-2.4 4.5-1.9 2.5-6.5 4.8-8.6 3-10 1.6-16 .8-28 .4-11.4-.5-13-1.3-14-2.2-23-5.5-16.1-5.1-18.5-7.2-23.6-11.2-11.3-6-15.1-9.1-13.4-8.9-11-8.4-7.2-5.6-13.8-12.3-25-23.7-9.4-10-5.2-7.1-5.4-8.5-11-18.6-7.6-13.9-5.3-10.9-4.1-10.1-4.4-11.5-5.1-16-3.3-11.4-7-30.6-4.2-23.4-3.1-20-1.5-13.6-1.1-15 0-14.4 .7-11.5 2.4-19.5 6.5-32.6 5.8-22 5.3-17.6 11.5-33.4 11.4-26.4 13.1-24.2 6.9-11.4 9-13 7.1-9 8-9.2 12-11.9 9.9-8.3 15.5-11.5 17.4-11.1 23.2-11.9 11-4.7 18.4-7 14-4.5 10.6-3.1 21-4.9 10.4-2.3 19-3.1 16-2z"/>
<path fill="#0019ff" d="M1476.8 144.2l10.9 .1 13.5 .8 15 2.7 6.5 2 3.5 1.7 4.5 3.7 3.8 6.6 2.8 8 2.4 12.4 .7 10 .1 13-1.6 20.6-1.7 12-1.9 10.4-4.8 19.6-12.2 39.4-4 18.6-3.4 25.4-2.3 31.6-1.2 34-.3 19.4 .2 45.6 2 40 7.6 90.4 4 20.6 3.2 11 12.9 38 3.2 15 2.8 26 1.4 40.4-1 12.6-2.4 9-2.1 4-2.1 2.8-3.1 2.6-3.5 2.2-8 2.9-10.4 1.7-16 .8-28 .5-22.6-1.6-13.4-2-25-5.9-15.6-5-18.4-7.2-23.8-11.4-11.2-5.9-15.6-9.4-12.9-8.7-11.1-8.2-21-18-25-23.7-9.3-10.1-5.1-7-5.5-8.4-11-18.6-7.5-14.1-5.3-10.9-4.2-10-5.1-13.6-4.3-13.8-3.2-11.6-7.2-31-5-28.4-3.6-28-1.1-15 0-14.6 1-13.9 2.1-16.5 6.4-32 5.9-22.6 5.3-17.4 11.4-33 11.3-26.3 13.1-24.3 7-11.4 8.9-13 7.1-9 7.9-9.2 12-11.9 10-8.4 15.6-11.5 17.3-11 22.7-11.8 11.4-5 18-6.8 14.6-4.7 10.4-3 21-4.9 10.5-2.3 19.1-3.1 19-2.2z"/>
<path fill="#0028ff" d="M1468.7 145.2l12.6-.4 18.9 .9 16.4 3.1 6.2 1.9 3.4 1.9 2.8 2.2 2.2 2.9 2.3 4.1 2.1 5.4 3.2 14 .8 10.6 .2 11.4-.4 9-1.6 17-2.6 16.5-5.5 22.5-12.2 38.6-4.1 18.4-3.5 25-2.3 32.6-1.2 34-.3 19 .3 45.4 1.9 41 7.7 90 4 20.6 3.3 11 13.2 38.4 3.2 15 2.7 26 1.1 30 0 16-1.1 8-2.1 7-3.1 5.6-4 3.8-5.4 3.1-7 2.3-9 1.4-12.5 .8-33.1 .6-20.9-1.6-14.1-2.1-25.4-6.1-14.7-4.8-19.3-7.6-20-9.6-13-6.8-16-9.7-13.1-8.7-17.5-13.5-8.1-7.1-32.4-30.4-8.3-9-4.8-6.6-16.8-27.4-5.6-10.2-7-14.3-8.3-21.1-8.3-27.4-7.6-33-6.9-41.6-2.6-28 0-15.4 .5-9 1.5-13.6 2.9-18 4.6-21.4 5.9-22 5.6-18.6 8.3-24.3 5-13.2 8.9-20.5 12.9-24 7.4-12 8.8-12.6 7.2-9.4 7.2-8.4 12.6-12.6 10-8.3 14.8-11.1 18-11.6 22.2-11.4 11-4.9 26.4-9.7 15.6-4.7 11.4-2.9 20-4.4 12.6-2.3 19.4-2.6z"/>
<path fill="#0037ff" d="M1470.2 145.8l11-.4 18.6 1 15.4 2.9 9 3.2 4.6 3.4 3.9 6.3 2.9 8 2.5 12.6 1 18.4-.2 9-1.7 18-1.3 9.6-1.8 10-4.9 19.4-12.6 39.6-4.2 18.4-1.8 11-1.8 15-2.3 31.6-1.1 33.4-.3 19.6 .3 46 1.9 40.4 5 62.6 2.7 27.4 4.1 20.6 3.5 11.4 13.2 37.7 3.2 14.9 2.8 26 1.2 39.4-.8 11.6-2.5 10-3.9 6.4-5.8 4.6-8.2 3.2-10 1.7-14.6 1-25 .7-15-.5-13-1.3-14.4-2.3-22-5.2-16.5-5.3-17.7-7-21.8-10.4-13-6.9-15.6-9.5-13-8.7-10.7-8.1-7.7-6.2-13.4-11.8-31-30-4.3-5-5-7-15.2-25-5.2-9.4-8.1-16.6-9.2-24-7.2-23.7-7.6-33.3-6.8-41.4-1.5-13.6-1.1-17.4 0-13.6 1.9-20.4 2.8-17.6 4.7-22 6-22.4 5.4-17.6 11.2-32.4 11.6-26.9 12.8-23.7 7.2-11.6 8.9-12.8 14.3-17.6 12.4-12.4 9.8-8.4 14.9-11.2 18-11.4 22.1-11.6 10.6-4.6 12-4.7 14.4-5.1 15.6-4.7 12-3 19.4-4.3 13-2.4 19-2.5z"/>
<path fill="#0045ff" d="M1471.9 146.2l10.3-.1 17.6 1 15.4 3.1 9 3.4 4 3.2 3.7 6 2.9 8 2.5 12 1 18.4-.2 9-1.5 17.6-1.4 10-1.8 10-4.8 19-12.5 38.4-2.9 11.6-3.6 19-1.8 15-2.3 31.4-1.1 34-.3 19.6 .3 46 2 41 4.9 62 2.7 27.4 4.1 20.6 3.8 12 11.2 30.9 2.9 9.5 2.3 11.6 2.9 26 1.1 39.4-.8 11-2.5 10-3.8 6.5-2.4 2.3-3.6 2.2-7.6 3-10.4 1.9-15 1.1-27 .7-12-.5-13-1.2-14.4-2.4-22.6-5.4-15.7-5.2-18.3-7.2-22.3-10.8-12.1-6.4-15-9.3-13.1-8.7-11.3-8.6-21-18-24.6-23.4-8.6-9.1-5.5-7.5-5.5-8.4-11-18.6-7-13-5.6-11.4-4.3-10.6-4.8-13-4.3-13.4-3.4-12-7-30.6-4.2-23-3.1-20-1.5-13.4-1.1-15 0-13 .6-11.6 2.4-20 1.8-10.4 4.7-21.6 5.9-22 5.5-18 11.4-33 11.3-26 12.8-23.4 7.4-12 8.7-12.6 7-9 7.7-9 12-12 9.7-8.2 15-11.3 17.9-11.5 21.5-11.2 11-4.9 18.6-7.1 14-4.6 22.4-6.1 18.6-4.1 12.4-2.2 19.6-2.6z"/>
<path fill="#0054ff" d="M1477.3 146.8l10.9 .2 12.6 1.1 15 3.2 8.4 3.4 4 3.5 3.3 6 2.6 7.6 2.4 12 1.1 18-.2 9.4-1.6 17.6-2.6 16.4-5.7 22.6-12.8 39-4.3 18.4-1.9 11-1.8 14.5-2.3 31.5-1.1 34 .2 65.6 1.9 41 4.8 62 2.8 27.4 4.2 20.6 3.9 12 11.3 31 2.9 9.4 2.4 11.6 1.9 15 1 11.4 1 39.6-.9 11-2.6 9.4-3.6 6-2.7 2.5-3.6 2.2-7.4 2.8-10.6 1.9-15 1.2-27 .6-11.4-.5-13-1.3-14-2.3-22.6-5.4-15.6-5.1-17.8-7.2-22.6-10.9-12-6.4-15.4-9.5-12.6-8.6-11.3-8.4-21.1-18.1-24.6-23.5-8.4-9.1-5.6-7.3-5.4-8.5-11.1-18.5-7-13-5.5-11.3-4.3-10.7-4.8-13-4.2-13.6-3.3-11.4-7.2-31-4.9-28-3.8-28.6-1-14.4-.1-14 .7-11 2.3-19.6 1.8-10.4 4.8-21.6 5.9-22 5.4-17.4 11.4-33 11.3-26.3 13-23.7 7.2-11.6 8.7-12.4 7.1-9.3 7.6-8.7 10.3-10.6 9.2-8 17.7-13.4 17.8-11.3 21-11.1 11.4-5.1 18-6.9 14-4.6 11-3.2 20.6-4.8 10.4-2.3 19-3.1 18.6-2z"/>
<path fill="#0062ff" d="M1467.4 147.8l13.8-.4 18.6 1.3 16.4 3.7 5.6 2 3.4 2.2 2.5 2.6 2 3.6 3.8 10.4 2.2 10.6 1.1 19.4-.2 8.6-1.4 16-3 19-5.4 20.9-12.7 38.1-3.2 12.4-3.4 17.6-2 16-1.7 21.4-.9 20-.8 42.6 .4 47 .5 16.4 2.6 39.6 5.5 66 1.6 12 3.4 15.4 4.1 12.6 11.6 31 3 9.8 2.4 12.2 2.8 26 .9 30-.4 16-1.9 9.4-2.8 6.9-3.6 4.1-6 3.7-6.4 2.3-10 1.8-13 1.1-23 .8-16-.4-12.6-1.2-14.4-2.3-10.2-2.2-13.7-3.6-15.1-5-18.6-7.4-11.7-5.6-22.7-12-20.6-13-13.4-9.6-11.6-9.1-13.3-11.7-30.5-29.6-5.6-6.8-7.9-11.6-16.3-28-8.1-16.6-8.9-23.4-7.2-24-7.6-33-6.8-41-1.5-13.6-1.1-16.4 0-13 .6-9.6 1.4-13 3-18.4 4.5-20.6 6-22 9.3-29.4 7.2-20 11.6-27 12.7-23 7.4-12 8.7-12.5 14-17.2 12-12.3 10-8.6 15-11.4 18-11.5 21-11.1 10.4-4.7 12-4.8 14.6-5.1 15.4-4.9 12-2.9 19.6-4.4 12-2.2 19.4-2.6z"/>
<path fill="#0071ff" d="M1469.7 148.2l12.1-.1 17 1.2 15.4 3.4 8 3.1 4 3.2 3.2 5.2 2.8 7.8 2.6 11.8 1.2 17-.1 10-1.5 18-2.7 16.4-5.6 22-13 38.6-4.3 17.4-2.4 13-1.9 15-1.8 22-.9 20-.7 42.6 .4 47.4 1.1 25.6 5.5 76 2.7 26.4 2.3 12.6 2.5 10 3.9 11.4 11.3 29.8 4.1 14.2 2.1 11.6 1.9 16 1.3 37.4-.4 14.6-1.9 10-1.6 4.4-2 3.6-2.1 2.3-2.7 2.1-7.7 3.7-11 2.3-14 1.4-25 .9-14-.5-13-1.2-14.6-2.4-17.4-4.1-22.1-7.1-17.5-7-11.4-5.5-22.6-11.9-21-13.3-13.4-9.7-11-8.8-13.6-11.9-30.4-29.6-7.4-9.3-6-9-16.2-27.7-7.9-16.3-9.1-23.8-7.1-24.2-7.2-31-2.3-12-4.9-31-1.5-13-1.1-17.4 0-12 .6-9.6 2.3-19.4 2.1-12 4.5-20 6-22 9.5-30 6.9-19.6 11.7-27 12.7-23 7.8-12.4 8.3-12 13.8-17 12.2-12.6 9.9-8.4 15.1-11.6 17.8-11.4 20.8-11 10.7-4.8 26-9.8 15.8-5 12.2-3 19-4.2 12.4-2.2 19.6-2.6z"/>
<path fill="#0080ff" d="M1472.1 148.8l11.7 0 15.4 1.4 15 3.5 7.8 3.1 3.8 3.2 3.2 5.8 2.6 7.4 2.4 11.6 1.2 16.4 0 10-1.5 17.6-2.7 16.4-5.5 21.6-13.3 39-4.4 17.4-2.4 13-2 15-1.8 22-.9 20-.7 42 .5 48.6 1.8 38.4 4.7 62.6 2.8 26.4 2.3 12.6 2.5 10 4.2 12 11.3 29.4 4.1 14 2.2 11.6 1.8 16 1.3 38-.5 14-1.9 10-1.5 4-1.9 3.4-1.9 2.3-3 2.3-7.7 3.4-10.9 2.4-14.4 1.5-26.6 .9-12-.5-13-1.3-14.4-2.4-21.6-5.3-16-5.2-17.4-7.1-22-10.8-12.3-6.6-15.3-9.6-13-8.8-10.7-8.2-21.3-18.1-24.4-23.3-6.6-7-6.6-8.6-5.6-8.4-16.3-28-7.8-16-9.2-24.6-7.1-24-7-30.4-3.9-21-3.2-21-1.5-13-1.1-15-.1-13 .6-11.6 2.4-19.4 1.9-11 4.5-20.6 6.1-22 5.5-18 11.5-33 11.3-26 12.6-22.8 9-14.2 7-10 14.6-17.8 10-10.3 9.4-8.3 18.3-14 17.3-11.1 19.4-10.3 11-4.9 18.5-7.3 13.5-4.5 10-3 13-3.2 18-4 12.6-2.2 19-2.5z"/>
<path fill="#008eff" d="M1464.9 149.8l15.9-.4 17.4 1.4 16.4 4 5.2 1.9 3 1.7 2.3 2.4 1.9 3 3.8 10 2.3 10.4 1.4 19-.1 8.6-1.3 16-3.1 19-5.3 20-13.5 39-4.4 17-2.4 13-2.1 15.4-1.8 22-.9 20-.6 42 1.1 64.6 2.4 40 3.4 45 2.1 20.4 1.7 12 3.5 15 4.7 13.6 11.9 30.5 2.9 9.5 2.6 12 1.8 14 .9 12 .8 30-.5 14.4-1.6 9-2.8 7-3.7 4.4-5.4 3.4-6 2.1-12 2.3-11 1.1-22 1-16-.5-12-1.1-14.6-2.3-10-2.2-13.9-3.7-14.9-4.9-18.4-7.6-11.8-5.6-22.1-11.8-20.9-13.3-13.4-9.8-11.3-8.9-13.3-11.7-30.1-29.3-7.3-9.2-6-9-16.3-27.8-7.8-16-8.9-23.6-7.1-24-7.6-32.4-3.7-20.6-3.2-20.4-1.5-13.6-1.1-16.4 .5-22 2.3-19.6 2.2-12.4 4.5-20 6-21.6 9.5-30 7-19.4 11.6-27 12.6-22.6 9-14.2 7-10 13.5-16.8 12.5-12.8 9.9-8.6 14.3-11 18.2-11.9 20-10.7 10.6-4.8 12.4-5.1 14-5 15.6-4.9 11.4-2.9 19.6-4.3 12-2.2z"/>
<path fill="#009dff" d="M1467.3 150.2l14.5-.1 16.4 1.5 16 4 5 2 3 1.7 2 2 1.9 2.9 3.9 10 2.3 10.6 1.4 19-.1 8-1.2 16-3.2 19-5.3 20-13.5 38.4-4.6 17.6-2.5 13-2 15-1.9 22.4-.9 20-.6 41.6 1.2 65 2.4 40.4 3.3 44.6 2.1 20.4 1.8 12 3.7 15.6 4.6 13 12.2 31 2.8 9 2.6 12 1.8 14 1 12 .7 30-.5 14-1.7 9-2.7 7-3.4 4.1-5.6 3.4-6.4 2.3-13 2.5-11 1-21 .9-15-.5-12-1.1-14.6-2.3-10.4-2.3-13.3-3.6-14.8-5-18.5-7.5-12-5.7-21.6-11.8-20.8-13.3-14-10.1-10.7-8.6-13.7-12-29.7-29-7.5-9.2-5.8-8.8-16.2-27.7-7.6-15.7-9-23.6-7.2-24.4-7.3-31-2.2-11.6-5-31.4-1.5-13-1.1-16.6 .1-12.4 .5-9.6 2.3-19 2.2-12.4 4.4-19.6 6.1-22 9.4-29.4 7.1-20 11.5-26.6 12.6-22.4 8.8-14 7.4-10.6 13.5-16.7 12-12.5 10.2-8.8 14.9-11.4 17.8-11.6 19.5-10.4 10.6-4.9 18.6-7.3 14-4.8 21.4-5.9 18.8-4.1 12.2-2.2 19-2.5z"/>
<path fill="#00abff" d="M1470.4 150.8l12.4 0 15.5 1.6 15 3.9 7.5 3.2 2 1.6 1.6 2.1 3.5 7.6 3.1 11.4 1.1 8.6 .8 12 0 9.4-1.3 16-2.8 17-5.6 21-13.8 39-4.7 17.6-2.5 13-2 14.9-1.9 22.5-.9 20-.5 41.6 .6 49 1.8 39 4.4 62 2.2 21 1.9 12 3.7 15.4 4.7 13 11.9 29.6 4.2 14 2.3 12 1.7 15.4 1.1 37-.6 13.6-1.9 9.4-3 7-2.1 2.6-2.6 2-7.4 3.4-11 2.6-13.6 1.6-24.4 1.1-13-.4-13-1.3-14.6-2.4-17.1-4.2-22.8-7.5-16.1-6.6-12-5.8-21.4-11.7-20.6-13.2-13.9-10.2-10.7-8.4-13.8-12.3-17.6-16.6-12.4-12.7-7.2-9-5.6-8.4-16.2-27.9-7.6-15.7-9-23.6-7.2-24.4-7.1-30.4-2.3-12-5.6-36-1.3-14-.6-13 0-10.6 1-13.4 1.9-15 2.2-12 4.4-19.6 6-21.4 9.6-30 7.1-20 11.5-26.3 12.4-22.3 9-14.2 7.3-10.2 13.7-17.1 10.4-10.9 8.6-7.7 18.5-14.3 17.8-11.6 18.3-9.7 11-5.1 18-7.2 14-4.7 10.4-3.2 12.1-3 17.9-4 12.6-2.2 19-2.4z"/>
<path fill="#00baff" d="M1463.6 151.8l17.2-.4 16 1.5 16.4 4.3 7.6 3.6 2 1.9 1.6 2.5 2.4 5.3 1.5 4.7 2.3 10.6 1.6 18-.1 8-1.1 15.4-3.2 19.6-5.4 19.4-14 39-4.6 17-2.6 13-2.2 15.6-1.8 22.4-.9 20-.5 41.6 .7 49 1.7 39 4.4 62 2.2 20.4 1.9 12.6 3.7 15 4.7 13 12.6 31.1 2.9 8.9 2.6 11.4 1.6 11 1.3 15.6 .6 30-.4 11.4-1.4 9-2.6 7.6-3.1 4.3-5 3.4-6.4 2.5-12.8 2.8-10.2 1.1-21 1.1-15.6-.4-12-1.1-14.4-2.3-9.6-2.1-14.3-3.9-14.7-5-18.4-7.5-11.6-5.6-22-12-20.4-13.2-14-10.2-11-8.8-13.6-11.9-17.4-16.7-12-12.1-9-11.5-16.5-26.9-11.1-22-8.9-23.6-7.3-24.4-7.7-33-3.7-20-3.1-20.6-1.5-13.4-1.1-16 .5-22 2.3-19.6 2.1-12 4.6-20 6.1-21.4 9.4-29.6 6.9-19.4 11.8-27 12.3-22 8.9-14 7.4-10.6 13.3-16.4 11.9-12.6 12.8-11 12.4-9.4 17.6-11.6 18.6-10 10.7-5 12.1-5 14.2-5 15.4-5 11.5-3 19.5-4.3 11.6-2z"/>
<path fill="#00c8ff" d="M1465.8 152.2l15.4-.1 16 1.7 16 4.5 4.7 1.9 2.9 1.9 2.1 2.7 2.7 5.4 3.5 12 1.6 11.6 .7 15-1.3 19.4-3.3 19.6-5 18-14.4 39.4-4.7 17-2.6 13-2.1 15-1.9 23-.9 20-.4 41.6 .7 49 1.7 39 4.3 62 2.2 20.4 2 12.6 3.7 15 4.6 12.4 13.1 32 2.8 8.6 2.6 11.4 1.5 10.6 1.4 16 .6 30-.4 11-1.6 9.4-2.6 7.6-3.1 4-5.1 3.3-4 1.6-6.4 1.9-9.6 1.8-12.4 1.2-18 .8-14.6-.3-12.4-1.2-14.6-2.4-9.4-2.1-13.6-3.6-15-5.1-18.4-7.7-11.6-5.6-19.5-10.6-11.5-7.2-12.5-8.4-12.9-9.4-10.6-8.5-13.4-11.9-17.6-16.6-12-12.2-8.8-11.4-16.5-27-10.8-21.4-9.1-24-7.3-24.6-7.3-31-2.2-11.4-5-31-1.5-13-1.1-16.6 .1-13 .9-13 1.9-15.4 2.1-11.6 4.5-19.4 6.1-21.6 9.6-29.9 6.9-19.5 11.6-26.6 12.4-22 9.1-14.2 7-10 13.4-16.8 11.9-12.4 12.7-11 12.4-9.6 18.5-12 17.6-9.4 10.7-5 26-10 15.5-5 11.8-3 30.5-6.3 19.4-2.5z"/>
<path fill="#00d7ff" d="M1469.9 152.8l13.3 .2 14 1.7 14.4 4.1 7.2 3.1 3.2 3.3 3.3 7 3 10.6 1.4 9.4 .8 10.6 0 10-1.1 15.4-2.7 16.5-5.6 20.5-14 38-3.5 11.6-4.2 18.4-1.9 12-2 19.6-1 18.4-.8 51.6 .8 49 1.6 39.4 4.3 61.6 2.3 21 2 12.4 3.8 15 3.9 10.6 13.4 32 4.4 14.3 2.4 12.1 1.8 15.6 .7 16.4 .2 19.6-.6 12-1.9 10-3 7-4.2 4-7.4 3.4-13 3.2-12 1.4-22.4 1.1-13-.4-12.6-1.2-15-2.5-16.4-4-22.6-7.6-16.4-6.9-11.4-5.6-19.6-10.7-11.5-7.2-16.5-11.2-9.7-7.4-9.3-7.5-13.7-11.9-17.3-16.6-12.2-12.4-7.4-9.3-5.4-8.2-11-18.3-5-9.2-7.3-15-8.9-23.6-7.2-24.4-7.1-30.6-2.4-12-5.6-36-1.9-26 .1-11 .9-13.4 1.8-14.7 2.2-11.9 4.5-19.4 6.1-21.6 9.5-29.4 7.1-20 11.4-26 12.4-22 8.9-14 7.4-10.6 13.7-17 9.9-10.4 8.9-8 18.4-14.6 17.8-11.4 17.4-9.5 10.8-5.1 13.5-5.4 18.1-6.5 10-3.1 12.6-3.2 17.4-3.8 12.6-2.2 19-2.4z"/>
<path fill="#00e5ff" d="M1463.5 153.8l17.3-.2 15 1.6 15.7 4.6 4.7 1.9 3 1.9 2.2 2.6 2.4 5 3.5 11.6 1.7 11 .8 15-1.2 19.4-3.4 19.6-5 17.4-14.7 39.6-4.8 17-2.7 13-2.2 15-2 23-.8 20-.4 41.4 .8 49.6 1.7 39.4 4.2 62 2.2 20 2.1 13 3.8 15 3.6 9.6 14.6 34.4 2.8 8.6 2.7 11.4 1.6 11 1.3 15.6 .5 21-.4 19-1.3 8.5-2.7 7.9-2.8 4-4.5 3.2-4 1.8-6.6 2-10 2-11.4 1.2-17.6 1-15-.4-12-1.1-14.4-2.4-9.6-2.1-14-3.8-15-5.2-18-7.6-11.3-5.6-19.7-10.8-11.3-7.2-17-11.4-9.2-7-9.5-7.7-13.5-11.9-16.9-16.1-12.1-12.3-9.1-11.6-16.4-26.7-10.6-21.3-8.8-23.3-7.6-25.2-7.1-30.5-2.2-11.4-5.1-31-1.5-13-1.1-16 .1-13 .9-13.6 1.8-15 2.1-11.4 4.5-19.6 6.2-21.5 9.5-29.5 6.9-19.6 11-25.4 7.6-14 15.4-24.6 11.7-15.8 7.4-9 11.9-12.7 13.1-11.3 12.3-9.6 17.6-11.4 17.4-9.6 10.6-5 11.9-5 14.1-5.1 15.6-5.1 11.4-2.9 30.6-6.3z"/>
<path fill="#00f4ff" d="M1467.5 154.2l14.3 .2 14 1.7 14 4.1 7.4 3.4 3.2 3.2 3.2 7 2.9 10 1.5 9.4 .8 9.6 .1 10.4-1.1 15-2.6 16-5.6 20-14.6 39-3.5 11-2.9 11.6-3.5 19.4-1.9 19.6-1.1 18.4-.6 51.6 .8 49 1.7 40 4.2 61.4 2.3 21 2.1 12.6 3.9 15 3.6 9.4 14.1 32.8 4.3 13.2 2.4 11.6 1.9 15.4 1 28-.4 17.6-1.1 8.4-3 9.6-1.5 2.4-2 2.1-7.2 3.9-12.4 3.6-12 1.7-22.4 1.3-13.6-.4-12-1.1-14.4-2.4-9.7-2.1-13.9-3.9-14.8-5.1-17.8-7.6-11.4-5.6-19.6-10.8-11.8-7.5-16.2-11.1-9.9-7.4-22.8-19.6-16.8-16-12.2-12.4-8.7-11.2-16.4-26.8-10.5-21-9-24-7.2-24.6-7.2-30.4-2.2-11-5-31-1.5-13.6-1.1-16.4 0-12.6 1-13.4 1.8-14.6 2.1-11.4 4.5-19.6 6.2-21.4 9.5-29.6 7-19.7 11-25.3 7.6-13.7 15.4-24.6 11.6-15.7 7.8-9.4 9.8-10.6 8.4-7.6 18.6-14.8 17.5-11.6 16.4-9 11.6-5.4 13.3-5.6 18.6-6.6 10.4-3.3 12-3 29-5.9 19.6-2.4z"/>
<path fill="#04fffb" d="M1463.1 155.2l9.1-.3 8 .3 14 1.6 6 1.4 9.2 3 4.8 2.1 3.3 1.9 2.1 2.6 2.2 4.3 3.5 11.1 1.9 11.6 .9 14.4-1.2 19-1.1 8.4-2.6 11.9-4.9 16.7-14.9 39-5 17-2.9 13.6-2.2 14.4-2 23.6-.8 20-.2 41.4 .8 49.6 1.6 40 4.1 61 1.6 15 2.7 17.4 3.9 15.6 4 10.4 9.8 21.7 5.2 12.9 2.9 8.4 2.7 11.6 1.6 10.4 1.3 15.6 .4 21-.6 18.4-1.3 8.6-2.6 7.4-2.6 3.8-4.6 3-10 3.8-10.4 2.2-12.6 1.3-15.4 .9-14.6-.4-12-1.1-14.4-2.4-9.1-2.1-14.5-3.9-14.3-5.1-17.7-7.4-12-6-18.9-10.6-11.8-7.4-16.1-11-9.9-7.6-22.9-19.4-16.7-16-12.1-12.5-9-11.5-16-26.2-10.6-20.9-8.4-22.5-7.8-26-7.2-30.9-2.1-10.5-5.1-31-1.5-13-1.1-16 0-13 .9-13.6 1.9-15 2-11 4.6-19.4 6.1-21.6 9.7-29.9 7-19.5 10.9-25 7.4-13.6 15.3-24.1 7-9.9 12-15 12.1-13 12.5-11 12.2-9.4 18.2-12 15.4-8.6 11.6-5.5 14.2-5.9 18.2-6.6 21.1-6 29.3-6z"/>
<path fill="#12ffed" d="M1470.5 155.8l12.7 .5 12 1.7 12.1 3.8 8.6 4 2.9 3.1 3 6.7 2.6 9.2 1.8 11.6 .9 13.8-.7 13-1.3 11.6-1.9 9.8-5.4 19.3-15 38.3-3.7 11.6-3 11.4-3.6 19-2.1 20-1.1 19-.4 51 .9 49.6 1.6 40.4 4 61 2.5 21.6 2.2 12.4 4.1 15 3.9 10 12.1 26.7 4 10.1 2.6 8.2 2.5 11.6 1.9 16 .9 27.4-.2 12-1.4 13-2.8 9-1.5 2.6-2 2-3 2-4.4 2-6.6 2.3-7.2 1.7-14.8 1.8-18 .9-12-.3-13-1.3-15.3-2.7-15.7-3.9-12.7-4.1-13.2-5-12.5-5.4-11-5.6-19.5-11-11.7-7.4-16-11-9.8-7.6-22.9-19.4-16.2-15.6-12.9-13.4-6.8-8.6-5.2-7.7-11-18.2-5.6-10.3-6.5-13.8-4.5-11.1-4.4-13.2-4.1-13.1-4.9-19.2-5.1-21.8-3.9-20.6-4.6-32-1.2-16 0-10 .4-12.4 2.4-20.5 1.8-10.5 4.6-19.5 9.6-31.8 14-40.8 11-24.8 12.4-21.6 16.2-24.1 8.8-11.3 8.6-9.7 6.4-6.8 13.8-12.2 10.9-8.4 11.6-8 23.6-13.6 19.9-9 16-6 15.1-5 22.1-5.4 18-3.6 10-1.4 12.6-1.4z"/>
<path fill="#21ffde" d="M1466.6 156.8l15.2 .3 12 1.7 11.1 3.4 9.8 4.6 2.8 3 3 6.4 2.7 9 2 12 .8 13-.6 13.6-1.3 11-1.9 9.7-5.4 19-15.4 38.7-3.5 10.6-3.3 12-3.6 19-2.1 20-1.2 20-.4 50.4 1.5 65.6 1.9 40.4 3.2 45.6 2.5 21.4 2.3 12.6 4.2 15 4 10 12.3 26.4 6.2 16.6 2.6 11 1.4 9 1.1 11.4 .6 16.6-.1 19-1.1 11.4-2.5 9.6-1.6 3.4-1.7 2-3.3 2.5-4.3 2.1-6.3 2.2-6.7 1.8-10.7 1.7-21 1.4-13-.4-12.6-1.1-23-4.4-14.4-4.1-14.7-5.1-17.4-7.6-11.5-5.7-18.9-10.7-11.7-7.6-16.7-11.4-9.1-7.1-23-19.6-16.1-15.3-12.5-12.9-7-8.7-5-7.4-12.7-21-10.3-20.6-8.5-23-7.6-25.4-9.4-41.6-5.1-31-1.5-13-1.1-16.4 .1-12.6 .9-13.4 1.8-14.6 2-11 4.6-19 6.3-21.4 9.5-29.4 7-19.7 11-24.9 7.1-13 15.6-24.6 11.7-16 7.9-9.4 9.5-10.6 7.8-7.1 9.4-8.1 9.5-7.2 17.4-11.6 14.3-8 12.4-6 14.1-6 17.3-6.2 10.1-3.2 11.9-3.2 29-5.8 19-2.4z"/>
<path fill="#2fffd0" d="M1465.1 157.8l7.7-.2 8.4 .5 12 1.8 13.1 4.3 5.4 2.6 2.9 2 1.7 2 1.9 3.7 3.6 10.7 2.1 11.6 1 13.4-1 18-1.2 8.6-2.5 11.4-4.8 15.6-15.3 38-3.6 10.4-3.3 11.6-3.6 18-2.4 21.4-1.2 20-.3 51 1.6 65.6 1.8 40.4 3.1 45 1.5 14 2.7 17 4.2 16.6 4.6 11.4 10 20.7 5.9 13.3 2.9 8 2.7 11 1.7 10 1.3 14 .4 21.5-.4 14.5-1.3 10.6-2 7-2.3 4.4-3.9 3.3-9.4 4.3-11.6 2.9-13 1.6-14 .8-13.4-.3-12-1.1-14.6-2.4-9-2-14.1-4.1-14.9-5.2-17-7.4-11.5-5.8-18.9-10.9-11.9-7.7-16.1-11.2-9.6-7.3-23-19.6-16-15.3-12-12.6-7.2-9-4.8-7-12.7-21-10.2-20.4-8.5-23-7.6-25.6-9.4-41.4-5-30.6-1.5-13-1.1-16 0-13 .9-13.4 1.8-14.6 2-10.4 4.6-19 6.3-21.5 16.7-49.5 10.7-24.4 7.3-13.2 15.4-24 11.7-16 7.8-9.4 9.4-10.6 7.6-6.9 9.4-8.2 9.4-7.3 18-12 13.5-7.6 12.5-6.2 13.8-5.8 17.7-6.4 10.1-3.3 11.4-3 28.4-5.7 19.6-2.5z"/>
<path fill="#3effc1" d="M1464.3 158.8l7.9-.2 8.6 .5 11.4 1.8 12 4 5.6 2.6 3.5 2.3 1.7 2 1.8 3.1 3.6 10.9 2.3 11.4 1 13.6-.9 17.4-1.2 8.6-2.6 11.4-4.8 15.3-15.5 37.7-3.7 10.6-3.4 11.4-3.7 18-2.5 22-1.2 20.6-.1 50.4 1.6 66 1.7 41 2.4 35.6 2.2 22.4 2.6 16.6 4.4 17 4.9 12 10.2 20.4 5.8 13 3 8 2.8 11 1.7 10 1.3 13.6 .4 17-.4 18.4-1.3 10.6-1.8 6.4-2.5 5-3.4 3-9.4 4.6-10.8 3-12.7 1.7-14.6 .9-13.4-.3-12-1.1-22.6-4.2-15.4-4.5-14.1-5.1-17.1-7.4-11.4-5.8-18.5-10.8-12.4-8-16.1-11.2-9.4-7.3-23-19.7-15.6-14.9-12.3-12.9-7.1-8.9-4.9-7.1-12.6-21-9.9-20-8.4-22.4-7.5-25.6-9.5-41.4-5-30.6-1.6-13.4-1-15.6 0-13 .9-13.4 1.8-14.6 1.9-10.4 4.7-19 6.2-21 16.8-49.6 10.8-24.4 7.3-13 15.4-24 11.4-15.6 8.1-10 9.1-10 7.4-7 9.6-8.3 9.1-7.1 17.9-12 13.3-7.6 12.7-6.3 13.4-5.7 17.6-6.5 10-3.2 12-3.2 27.4-5.6 20-2.5z"/>
<path fill="#4dffb2" d="M1463.9 159.8l8.3-.2 8 .6 11.6 1.8 12 4.2 5 2.6 3.4 2.2 1.9 2.2 1.6 3 3.5 10.6 2.2 11 1.1 13.4-.6 14-.9 8-3.5 16-4.5 14-15.7 37.6-3.1 8.4-3.7 12-2.7 11.6-2.5 14-1.8 18.4-1.2 25.6-.1 22 1.4 71 2.1 57 2 31.4 2.4 26 2.7 17 4.7 18 5 12 10.3 20 6 13.2 3 7.8 2.8 11 1.8 10 1.2 13 .5 18-.5 17.6-1.4 10.4-1.8 6.6-2.6 5-3.6 2.8-9 4.3-11 3.2-16 2-10.4 .5-13-.3-12-1.1-22.6-4.2-15-4.4-14.4-5.3-16.6-7.3-11.4-5.8-18.8-11-12.2-7.9-15.7-11.1-9.7-7.4-22.8-19.6-15.4-14.7-12.4-13.1-7-8.7-4.8-6.9-12.7-21-9.8-20-8.4-22.6-7.5-25.4-9.4-41-5-30.6-1.6-13.4-1-15.6 0-13 .9-13.4 1.7-14 1.9-10.6 4.6-18.4 3.8-13 12.2-37.6 7.4-21 10.6-24 7.3-13 9.9-15.4 11.8-17 8-10.6 8-9.4 6.5-7.2 8-7.5 8.6-7.4 9.5-7.5 17.5-11.7 13-7.4 12.7-6.3 13.7-5.9 17-6.3 10-3.3 11.7-3.1 27.3-5.5 19.6-2.4z"/>
<path fill="#5bffa4" d="M1463.8 160.8l10.9 0 8.5 .8 8 1.5 11.4 4.1 4.9 2.6 3.6 2.4 1.7 2 1.6 3 3.6 10.6 2.2 10.4 1.1 13-.5 14-.9 8-3.5 16-4.6 14-18.9 45-4 12.6-2.8 12-2.5 13.4-1.8 19-1.3 25.6 0 22 1.5 71 2.1 58 1.9 30.4 2.4 26 2.9 17.6 4.8 18 5.1 12 10.5 20 6 13 3.1 8 2.8 10.4 1.7 10 1.3 13 .4 18.6-.4 16.4-1.5 10.6-1.9 6.2-2.4 4.8-3.6 2.9-9 4.4-10.4 3.1-15.6 2.1-10.4 .5-12.6-.2-12-1.1-22.5-4.3-15.5-4.5-14-5.1-16.5-7.4-11.6-6-18.3-10.7-12-7.9-16-11.3-9.6-7.3-23-19.7-15.1-14.5-12.3-13.1-7-8.7-4.8-6.8-12.6-21-9.7-19.4-4.9-12.6-3.4-10-7.5-25.4-9.4-41-5.1-30.6-1.6-13.4-1.1-16 .1-13 .8-13 1.8-14 1.9-10.6 4.5-18 3.8-13 12.3-37.4 7.6-21.6 10.3-23.1 7.4-13.3 10-15.6 11.8-17 16.1-20 6.4-7 7.9-7.4 8.4-7.3 9.4-7.5 17.5-11.8 12.2-7 12.9-6.4 13.9-6 16.5-6.2 10-3.3 12-3.2 27-5.5 19.6-2.4z"/>
<path fill="#6aff95" d="M1464 161.8l10.8 0 8.4 .9 7.6 1.5 10.7 4 8.3 5 1.8 2 1.4 2.6 3.8 10.6 2.1 9.8 1.2 13.6-.5 13.4-.9 8.6-1.8 9-2.6 9.4-4.1 11.4-18.2 42.6-4.7 14-2.8 12-2.5 13.6-2 19-1.2 25.4 0 22.6 1.6 71 2.1 61 1.7 27.9 2.5 25.5 2.8 17 4.9 18.6 5.4 12.4 10.8 20 6.1 13 2.9 7.6 2.9 10.4 1.8 10 1.3 13.6 .4 18.4-.5 15.6-1.6 10.4-1.8 6.1-2.3 4.5-3.6 3-8.8 4.4-10.2 3.2-15 2-10.4 .6-12.6-.2-12-1.1-22.4-4.3-15.6-4.6-13.7-5-13.5-6-14.2-7.3-18.2-10.7-12.4-8.2-16-11.3-9.4-7.4-22.9-19.7-14.7-14-12.7-13.4-6.8-8.6-4.9-7-12.6-20.8-9.4-19.2-4.9-12.4-3.3-10-7.5-25.6-9.5-41-2.8-15.4-3-21-1.8-23 .1-16 .7-10.1 1.8-13.9 1.9-10 4.3-17.6 4-13.5 14-42.3 6-16.8 10.1-22.8 7.4-13 9.9-15.6 11.9-17 16.3-20.4 5.9-6.6 8-7.4 7.9-7.1 10-7.9 17-11.5 12.2-7.1 12.8-6.5 13.9-5.9 16.7-6.3 9.8-3.3 12.2-3.2 26.4-5.4 19.6-2.4z"/>
<path fill="#78ff87" d="M1465.1 162.8l9.7 .1 8 .9 7 1.4 9.4 3.6 8 4.5 3.6 3.7 2.9 6.8 3.1 10.4 1.3 8.6 .8 9.4-.5 13.6-1.2 9.4-2.3 10.6-5.1 15.7-16.7 37.7-3.7 9.6-4.1 12.4-4 18-2.1 15-1.5 18.6-.7 18.4 0 21.6 1.7 71 2.2 62.4 1.6 27 2.6 26 2.9 17 5.1 18.6 5.6 12.4 13.5 25.2 6.7 15.8 2.9 10.7 1.5 8.9 1.2 12.4 .4 15-.5 18.6-1 7.4-2.3 9-1.7 3.6-1.6 2-3.4 2.4-5.2 3-11 3.9-13.4 2.1-13.6 1-12-.2-12-1.1-22.4-4.4-16-4.7-13.3-5-13.4-6-13.9-7.2-18.1-10.8-12.3-8.2-16-11.4-9-7.1-23.2-19.9-14.6-14-12.7-13.4-11.4-15-12.6-21-9.3-19-4.9-12.6-3.3-9.9-7.5-25.5-9.4-40.6-2.8-15.4-3.1-21-1.8-23 .2-16 .7-10 1.7-14 1.9-10 4.3-17 3.9-13.6 14.1-42.4 6.1-17 10.1-22.6 7.4-13 9.7-15 12.2-17.4 16.3-20.4 6.5-7.2 13.5-12.4 9.9-8 9-6.6 20.5-12.6 20.1-9.8 24.5-9.6 9-3 13-3.5 25.4-5.1 19.6-2.4z"/>
<path fill="#87ff78" d="M1456.3 164.2l14.9-.4 13.6 1.6 5.5 1.4 6.5 2.4 5 2.6 4.4 2.9 2.2 2.1 1.7 2.4 3.7 9.5 2.4 10.1 1.4 13-.4 13-.9 8.4-1.7 8.6-2.6 9.4-4.2 11.6-19.7 44.4-4.5 13.6-3.9 17-2.4 16-1.5 18.4-.7 19 .1 21 3.9 134.6 1.5 26 2.5 25.4 2.9 17 5.3 19.6 5.6 12.4 11.3 20 6 12.4 3.2 7.6 2.8 10.4 2 10.2 1.2 13 .3 18.4-.6 15-1.8 10.6-2 6-2.2 3.4-4.5 3.6-7.7 4-9.1 2.9-14.6 2-9 .6-13-.2-11.4-1.1-22.6-4.2-16-4.9-13.4-5.1-13.5-6-13.5-7.1-18.2-10.9-12-8-15.8-11.4-9.2-7.2-23.2-20-14.2-13.5-12.6-13.5-11.4-15-12.5-20.4-9.5-19.4-7.4-20.3-8.1-27.3-9.4-40.6-5.1-30-1.6-13.4-1.1-15 .2-17 .6-9.6 1.8-14.4 1.8-9.6 4.3-17 4-13.4 20.1-59 10-22.6 7.4-13 10.1-15.4 12-17.1 15-19 6.5-7.5 7.3-7 8.3-7.4 9.4-7.6 17.4-12 11.9-7 12.2-6.2 24.4-10.2 21-7 14.5-3.6 16.5-3.2z"/>
<path fill="#95ff6a" d="M1458 165.2l13.2-.2 13.5 1.7 5.5 1.5 6 2.5 4.9 2.5 3.5 2.6 2.2 2 1.7 2.4 3.7 9.3 2.6 9.6 1.4 13.1-.3 12.6-.9 8.4-1.6 8-2.9 10-2.6 7.6-5.1 12-16.3 35.4-4.6 13.6-4.2 17.4-2.4 16-1.6 19-.7 19 .2 21 3.9 135 1.5 26 2.5 25 2.9 17 5.6 20 6 13 11.3 19.6 6.2 12.4 3.1 7.6 2.9 10 1.9 10 1.2 13 .3 18.4-.7 14.6-1.8 10.4-1.9 5.6-2.3 3.5-5 3.9-7 3.7-8.7 2.9-13.9 2-9.4 .6-12-.2-12-1.1-22.6-4.3-16-4.9-13-5-12.5-5.7-14.3-7.4-11.8-7-18.4-12.1-15.8-11.5-9.2-7.2-23-19.8-14-13.4-12.6-13.6-11.4-14.8-11.9-19.7-9.4-18.9-6-15.6-9.7-32.1-8.2-34.3-4.1-21.6-2.3-15-1.6-14-1.1-15 .1-16.4 .7-9.6 1.7-14 1.8-9.6 3-12.2 5.3-18.2 20.4-59.4 9.9-22 7.2-12.6 9.8-15 12.4-17.8 15.5-19.6 6.3-7 6.8-6.6 8-7.2 9.5-7.8 16.9-11.8 11.6-6.8 13-6.7 24-10.1 21.1-7 14.3-3.6 16.6-3.2z"/>
<path fill="#a4ff5b" d="M1463.2 166.2l10 .2 8.6 1.1 6 1.5 9.9 4.2 6.3 4.6 2.2 2.4 1.5 2.6 3.8 10 1.9 8 1.4 12.4-.3 12-1 8.6-1.5 7.4-3.1 10.6-2.6 7-6.1 13.7-14.7 31.3-5.1 14-3 11-2.9 13.4-1.5 12-1.5 18.6-.7 23.4 4.2 151.6 1.4 25.4 2.5 25 3 17 6 21 6.2 13 11.3 19 6.4 12.3 3.1 7.3 2.8 10 2 10 1.3 13 .2 18.4-.7 14-1.8 10-1.9 5.6-2.8 4-5.2 4-6.7 3.4-7.9 2.6-13.4 2.1-9.6 .6-11.4-.2-12-1.1-22-4.2-16.6-5.2-12.4-4.8-12.6-5.8-14.2-7.4-11.6-7-18.6-12.4-24.6-18.4-23-19.8-14-13.4-12.5-13.6-11.2-14.4-11.7-19.4-7.3-14.2-8.2-20.4-9.5-32-8.4-35-4-20.6-2.3-15-1.6-14-1.1-15.4 .1-16 .7-9.6 1.7-13.9 1.8-9.5 3-12 5.3-18 20.4-59.6 9.8-21.8 7.1-12.2 22.5-33 15.7-20 6.7-7.4 12.6-11.8 18.4-14.6 20-12.5 19.6-9.9 24-9.6 9-3 13-3.6 24.4-4.9 19.6-2.3z"/>
<path fill="#b3ff4c" d="M1456.5 167.8l13.7-.4 12 1.7 8 2.4 6 2.9 4.3 2.8 4.7 5.1 3.8 8.5 2.6 9 1.7 13.4-.2 11.6-.9 8.4-1.6 7.6-3.1 10.4-2.6 7-7.1 15.9-14.5 29.7-5 13.4-3 11-2.9 13.6-1.6 12-1.5 18.4-.7 24.1 3.5 112.9 .7 39 1.4 25.6 2.5 24.4 3.1 17.6 6.2 21 6.3 13 11.9 19.4 6 11.4 3.2 7.2 3 10 2 10 1.3 13 .2 18.4-.7 13-1.2 7.6-2.6 8-2.8 4-4.8 3.9-6.6 3.5-7.4 2.6-13 2.1-9 .6-12-.1-11.6-1.1-22-4.2-16.4-5.2-12.6-4.9-12.5-5.8-13.9-7.4-11.6-7-18.7-12.6-24.5-18.4-22.8-19.6-13.9-13.5-12.5-13.5-11-14.3-11.6-18.8-7-13.9-8.2-20.4-9.8-32.6-8.4-35-3.9-20-2.3-15-1.6-14-1.1-15 .1-16 .7-10 1.7-14 1.7-9 3-12 5.4-18 20.5-59.4 9.7-21.6 7-12 22.6-33 15.2-19.4 6.2-7 7.2-7 7-6.6 9.7-8 16.2-11.4 11.4-6.9 12.5-6.6 23.4-10.1 21.1-7.1 9-2.4 21.6-4.4z"/>
<path fill="#c1ff3e" d="M1462.4 168.8l9.8 .1 13 2.4 8.6 3.6 6.2 4.3 4.2 5.1 3.8 8.9 2.1 7.6 1.7 13-.2 10.9-.9 8.6-1.4 6.9-3.2 10.6-2.7 7-7.3 16-14.7 29.4-5.1 13.6-3 11-3.1 13.4-1.7 12.6-1.5 18.4-.6 24 3.6 113 .7 39.6 1.3 25 2.5 24.4 3.3 18 2.8 10.6 3.7 11 6.8 13.4 11.7 18.5 4.1 7.5 5 10.6 3.3 10.4 2 10 1.2 13 .2 18-.8 12.6-1 6.4-2.7 8.6-2.8 4-5.1 4.2-5.8 3.2-7.2 2.6-13 2.1-9.4 .6-11-.1-11.6-1.1-22-4.3-16.4-5.2-12.6-4.9-12-5.7-14-7.5-11.2-6.9-18.5-12.6-24.4-18.4-18.9-16.2-11.2-10.4-7.1-7-11.9-13-10.9-14-11.6-19-7.1-14-8-20-9.6-32.4-8.6-35.6-3.8-19.4-2.3-15-2-18-.7-11 .1-15.6 .7-10 1.7-14 1.6-8.4 2.9-11.6 5.4-18 21-60.4 9.3-20.6 7-12 23.1-33.4 15.1-19.6 6.2-7 12.3-11.7 18-14.5 8.4-5.8 11-6.7 19.6-10.1 24-9.7 8.4-2.9 13-3.6 24-4.9 14.6-1.8z"/>
<path fill="#d0ff2f" d="M1456 170.2l13.8-.2 11.4 1.7 7 2.2 9 5.3 5.1 5.6 3.7 8 2.5 8 1.8 13-.1 11-1 8.4-1.3 6.6-3.2 10.4-2.5 6.6-7.5 16-15.4 30.4-5.3 14-4.7 17.6-1.9 10-2 18.4-1.1 19.6-.1 14 3.8 112.4 .5 40 1.3 24.6 2.6 25 3.3 18 3 10.4 3.9 11.6 7 13.4 14.9 23.6 4.7 9.2 2.3 5.8 3.2 11 1.9 13 .6 11 .1 13-.5 7.4-.8 9-2.3 8.6-2.5 4.4-4.4 4.6-6.2 4-7.4 2.8-13 2.2-9 .7-11-.1-12-1.1-21.4-4.2-17-5.4-12-4.8-12-5.7-13.6-7.4-11-6.8-19-12.9-24.4-18.7-18.9-16.2-11.1-10.3-6.8-6.7-11.8-13-10.9-14-11.1-18-7.4-14.4-7.9-20-9.6-32.6-8.5-35-3.8-19.4-2.3-15-1.7-14-1-14.6 0-16 .7-9.4 1.6-14 1.7-8.6 2.8-11.4 5.5-18 21.1-60.6 9.3-20.4 6.8-11.6 23.2-33.4 14.6-19 6.5-7.4 11.9-11.6 17.9-14.6 8.2-5.6 10.9-6.8 19.1-10 24-9.8 21-6.5 24-5z"/>
<path fill="#deff21" d="M1459.6 171.2l10.6 .1 11.6 2 6.4 2.3 8 5.1 4.8 5.5 3.9 8.6 2.1 7 1.9 13-.2 10-.9 8.4-1.3 6-3.3 10.7-2.5 6.3-7.6 16-15.5 30-5.7 14.6-4.8 17.4-1.9 10-2.1 19-1 19.6-.1 14.4 3.9 112.6 .5 40 1.2 24.4 2.6 25 3.5 18 3.1 10.8 4.1 11.8 7.2 13.4 15 23 4.5 8.6 2.4 5.4 3.1 10.6 1.7 9 1.1 12.4 0 18.6-1 12.4-2 8-2.3 5.1-4.3 4.9-6.1 4.3-7 2.9-13 2.4-9.4 .8-10.6-.1-11.4-1.1-22-4.3-17-5.5-11.6-4.7-12-5.7-13.5-7.5-10.9-6.8-18.6-12.8-24.4-18.7-19-16.3-11-10.2-6.7-6.7-11.8-13-10.6-13.4-10.8-17.6-7.5-14.4-7.9-20-7.6-25-10.6-43-3.9-19.6-2.3-15-2-18-.6-10.4 0-15.6 .7-9.4 1.6-14 1.6-8 3-12 5.4-17.6 21.1-60.4 9.2-20 6.8-11.6 23.7-34 14.5-19 5.7-6.4 12-11.8 17.9-14.8 8.1-5.6 10.4-6.5 19.5-10.3 23.5-9.7 8.6-3 13-3.6 23.4-4.8z"/>
<path fill="#edff12" d="M1454.5 172.8l14.3-.4 10 1.6 7.5 2.3 7.5 4.5 5.3 6 4 8 2.4 7.4 2 12.6-.1 9.4-.9 8.6-1.3 5.9-3.4 11.1-2.4 6-7.8 16-15.9 30-5.8 14.4-4.9 17.6-2 10-2.1 19-1.1 19.4 0 15 3.6 94.6 .8 58.4 1.2 24.6 2.7 25 3.6 18 3.1 10.5 4.4 12.4 7.5 13.6 14.8 21.9 4.9 9 2.2 5 3.2 10.6 1.8 9 1.1 12.4 0 18-1.2 13-2 7.6-2.4 5-4.2 5-5.7 3.9-6.4 2.7-13 2.5-9 .8-10-.1-12-1.1-21.6-4.3-17-5.5-11.4-4.7-11.6-5.5-13.4-7.5-11-6.9-19-13.2-24.6-18.9-18.4-15.9-11-10.2-6.7-6.7-11.7-13-10.6-13.4-10.8-17.6-7.4-14.4-7.7-19.6-9.5-32.4-8.8-36-3.8-19-2.2-14.6-2-18-.7-10.4 0-15 .7-9.6 1.6-14 1.7-8.4 2.7-11 5.6-18 21.3-60.6 8.9-19.4 6.6-11 24-34.6 14-18.4 6-7 11.6-11.6 17.6-14.6 8.6-6 10-6.2 19-10.3 24-10 21-6.5 23-4.7z"/>
<path fill="#fbff04" d="M1455.2 173.8l13.6-.3 9.4 1.6 7.6 2.4 7 4.4 5.4 6.3 3.9 8 2.1 6.6 2 12.4-.1 9-.9 8.6-1.2 5.4-3.5 11-2.4 6-7.6 15.6-16.3 30-6 14.4-5.2 18-2.1 10-2.1 19-1.1 20-.1 15.6 3.8 94.4 .7 58.6 1.1 24.4 2.8 24.6 3.8 18.4 3.4 11 4.5 12 7.1 12.7 15.6 22.9 5 9 2.2 5 3.2 10.4 1.7 9 1.2 12.5 0 17.1-1.2 12.4-1.5 6-2.5 6-4.7 5.9-5.6 3.9-6 2.5-12.4 2.5-9.6 .8-9.4-.1-11.6-1.1-21.4-4.2-17-5.6-11.6-4.7-11.4-5.6-13.6-7.4-11-7-19-13.2-24-18.7-19-16.3-10.3-9.7-7-7-11.2-12.4-10.6-13.6-10.6-17-7.7-15-7.6-19.4-7.7-25.6-10.5-42.4-3.9-19.6-2.2-14.4-2-18-.7-10.6 0-14.4 1.2-14.5 1.6-11.5 3.5-15 6.1-20 21.4-60.6 8.8-18.9 6.6-11.1 23.7-34 14.4-19 5.5-6.4 11.2-11.4 17.6-14.7 8.4-6 10-6.3 19-10.3 24-10 20.6-6.4 23.4-4.9z"/>
<path fill="#fff400" d="M1455.1 174.8l13.1-.3 9.6 1.7 7.4 2.4 6.5 4.2 2.5 2.4 2.9 4 3.9 8 2.1 6.6 1.9 12-.1 8.4-1 9-1.3 5.6-3.6 11-10 21-16.3 29.4-6.1 14.6-5.5 18-2.1 10-2.2 19-1.2 19.4-.1 17 3.7 94.6 .6 58.4 1.4 24.6 3 24.4 4 18.6 3.5 11 4.6 11.5 6.9 12.4 16.3 23.5 7 13.6 3.4 11 1.7 8.4 1.1 12.6 .1 16.4-1.2 12-1.2 5.6-2.6 6.4-4.7 6-5.3 3.9-6 2.6-12.6 2.5-9 .8-9-.1-12-1.1-21.4-4.4-17-5.6-11.6-4.8-11.4-5.5-13.6-7.6-11-6.9-18.4-13-24-18.6-18.7-16.2-10.3-9.6-7-7.1-11-12.4-10.9-13.9-10.3-16.4-7.6-15-7.6-19.6-9.6-32.4-8.7-35.6-3.8-19-2.2-14.4-1.2-9-1.5-19.6 0-14.4 1.1-14 1.6-11.6 3.6-15.4 6-19.6 21.3-60 9-19.4 6.6-11 24-34.6 14-18.4 5.2-6.1 11.1-11.5 17.9-14.9 8-5.7 10-6.3 19-10.3 23.4-9.9 21-6.6 23.6-4.8z"/>
<path fill="#ffe500" d="M1454.3 175.8l12.9-.4 9 1.5 8 2.5 6.6 4.1 5.2 6.3 3.9 8 2.1 6.4 1.9 12-.1 8-1.2 9.6-2.3 8.4-2.9 8.6-9.4 19.4-16.3 29-5.5 12.6-2.6 7-4.3 14-1.9 8.4-1.5 10-1.8 18.6-.7 12-.1 18 3.2 94 .7 57 1.7 25 2.2 16.4 1.6 9.6 3.9 16.4 3.6 11.2 4.6 11.4 7.4 13.2 16.2 23.2 6.9 13 3.4 10.6 1.3 5.4 1.9 17 .1 15-1.4 13.6-2.7 9-3.1 5.1-2.6 2.8-3 2.4-7 3.5-13 2.7-9.4 .9-8.6-.1-11.4-1.1-21.6-4.4-17-5.6-12-5-11-5.3-13.4-7.5-10.6-6.6-19-13.3-24-18.6-18.4-16.1-10.5-9.8-6.8-7-11.1-12.6-10.5-13.4-10.5-17-7.4-14.6-7.6-19.4-9.6-32.6-8.8-35.4-3.6-18.6-2.3-15-2-18-.7-10.4 0-13.6 1.2-14.4 1.6-11.6 3.5-15 6-19.4 21.5-60.6 8.8-19 6.6-11 23.5-34 14.3-19 5.1-6 11.2-11.4 17.5-14.7 8-5.8 10-6.2 19-10.4 23-9.7 21-6.6 23.6-4.8z"/>
<path fill="#ffd700" d="M1452.7 176.8l11-.5 8.1 .7 10.4 2.8 3.6 1.7 4 2.7 2.4 2.4 2.7 3.6 4 8 2.1 6.6 1.8 11.4 0 7.6-1.2 9.4-2.3 8.6-2.9 8.4-9.4 19.6-16.9 30-6.5 14.4-5.8 17.6-2.2 9-1.6 9.4-1.4 11-1.4 19-.4 19 .2 16.6 2.5 78.4 .8 56.6 2.3 25.4 2.5 16 1.8 9.6 4.2 16.4 4 11.6 4.7 11.2 7.4 13.1 16.2 23.1 7 13 4.5 15 1.1 6 1.1 12 .1 14.5-1.3 13.5-2.6 8.6-3.2 5.4-4.9 4.8-7 3.6-13 2.9-9.4 .9-8-.1-12.1-1.1-21.5-4.5-17-5.7-11.4-4.7-11-5.4-13.6-7.4-11-6.9-18.4-12.9-24-18.7-14.8-12.8-13.9-13-7.3-7.4-10.1-11.6-10.9-14-10.2-16.4-7.6-15-7.6-19.6-9.6-32-8.8-35.4-3.7-19-2.2-14.6-1.7-14.4-1-14 .1-13.6 1.1-14.4 1.7-12 3.4-14.6 6-19.4 21.4-60 5.9-13.6 3.4-6.4 5.7-9.6 23.8-34.4 14.3-19 5-6 10.7-11 17.3-14.7 8.6-6.1 10-6.3 18.4-10.1 23.6-9.9 20.4-6.5 23.6-4.7z"/>
<path fill="#ffc800" d="M1458.1 177.2l10.1 .2 9.6 2 6.2 2.4 5.8 3.8 4.8 6.2 4 8.4 2.3 9.6 .9 7.4-.2 7-1.2 9.6-2.2 8-3.1 9-9 18.4-17.1 30-6.7 14.6-6.1 17.4-2.4 9-1.8 10-1.5 10.6-1.6 19.4-.6 19 .1 17 2 78 .8 54 1.6 17.6 2.5 17 3.6 18.4 4.3 15.6 8.3 21.4 2.9 6 5.7 9.6 17.3 25 6.3 12 4.5 15 1 6 1.1 11.4 .2 14.6-1.4 13.4-2.7 8.6-3.2 5.1-5 4.7-7 3.5-12.4 2.6-10 .9-7-.1-12-1.2-21-4.4-17.6-5.9-11.4-4.7-11-5.3-13.6-7.5-10.4-6.5-18.6-12.9-24.2-18.9-14.4-12.4-13.7-13-7.3-7.6-10.4-11.9-10.4-13.6-10.5-17-7.3-14.5-7.7-19.4-9.6-32-8.8-35.6-3.8-19-2.1-14.4-1.7-14.6-.9-14 0-12.4 1.1-14.6 1.7-12 3.4-14.4 6-19.6 21.5-60.4 8.6-18.6 6.6-11 23.3-34 14.6-19.4 15.4-16.6 17.6-14.9 8-5.7 10-6.2 19-10.4 23-9.7 20.6-6.4 23.4-4.7z"/>
<path fill="#ffba00" d="M1456.5 178.2l10.7 .1 9 1.7 6.6 2.3 6 3.9 4.8 6 3.8 8 2.2 8.6 1.1 8.4-.1 7-1.3 9.6-2.2 8-3.2 9-8.7 18-16.2 28-4.3 8.4-4.7 10.6-5.7 15.4-2.4 9-2 10-1.5 10.6-1.8 20-.8 18.4-.1 17.6 2.3 124.4 .5 12.6 3.3 23.4 3.2 15.6 2.9 11.4 4.9 15.6 7.4 18 3.2 6.4 6.1 10 17 24.6 6.6 12.4 4.3 14.6 1.1 6 1.1 11.4 .1 14.6-1.3 13-2.6 8.3-3.2 5.1-4.8 4.7-6.6 3.2-12.4 2.8-10 .9-7-.1-11.6-1.1-21.4-4.6-17.1-5.8-11.9-4.9-10.6-5.1-13.7-7.4-10.7-6.7-18-12.5-24.6-19.1-14-12.3-13.6-13-7.4-7.6-10-11.6-10.5-13.8-10.2-16.4-7.6-15-7.5-19-9.8-32.6-8.7-35-3.8-19-2.2-14.4-1.6-14.5-.9-14.1 0-12.4 1.1-14.6 1.8-12.4 3.3-14 6-19.6 21.2-59.5 6.2-13.9 9.1-16 23.1-34 14.2-19 4.8-5.7 11-11.3 17.1-14.6 8.4-6 10.1-6.2 18.4-10.1 23-9.8 21-6.5 23-4.6z"/>
<path fill="#ffab00" d="M1454.6 179.2l10.6-.1 7.5 1.1 8.5 2.6 6.5 4 4.6 5.4 4 8 2 7.6 1.3 9.4-.1 7-1.4 9.6-2.1 8-3.2 9-8.6 17.7-16.5 28.2-4.4 8.5-4.9 10.6-5.9 15.4-2.6 9-2 10-2.5 17.6-1.2 14-.9 19-.2 39 1.8 99 .7 15.4 3.5 22.6 6.8 27 5.4 16 7.8 18 3.5 7 5.9 9.4 17.3 24.7 6.4 12.3 4.3 14.6 1.2 6.5 1.1 10.9 .2 14-1.3 13-2.5 8-3.3 5.6-4.7 4.4-6.4 3.2-12 2.7-10 .9-7-.1-11.6-1.2-21-4.5-17.5-6-11.9-4.9-10.6-5-13.4-7.4-10.6-6.4-18.4-12.7-14.6-11.1-9.4-7.7-13.9-12.2-13.6-13-7.5-8-9.5-11-11-14.6-9.8-16-7.6-15-7.5-19-9.8-32-8.8-35.3-3.8-18.7-2.1-14.4-1.7-14.6-.8-14 0-12 1.1-15 1.9-12.4 3.2-14 5.8-19 21.4-60 6-13.6 9-16 23-33.8 14.2-19.2 4.8-5.5 10.9-11.5 17.3-14.4 8.2-6 9.7-6 18.3-10.1 23.6-9.9 20-6.3 23.4-4.6z"/>
<path fill="#ff9d00" d="M1452.8 180.2l10-.3 7.4 .8 9.6 2.6 6.7 3.9 4.8 5.6 3.9 7.8 2 7.2 1.3 9.4-.1 7-1.4 9.6-2.2 8-3.2 9-8.4 17.3-16.5 28.1-5.6 10.6-4.7 10-6.2 16-2.6 9-3.4 18-2.2 19.4-1.1 17.6-.6 43.4 1.5 98.6 .9 16 1.6 11.4 2.1 10 7.6 27.6 6 16.4 8.2 18 3.7 7 6 9.6 16.9 24 6.4 12.3 4.5 14.7 1.2 6.4 1.1 11 .3 14-1.4 13-2.6 8-3.1 5-4.4 4.2-6.6 3.2-11.7 2.6-9.7 1-7-.1-11.6-1.3-20.9-4.6-17.5-6-11.1-4.4-10.9-5.3-13.6-7.3-10.6-6.4-18.2-12.6-15.2-11.4-9-7.4-13.7-12.2-13.3-12.8-7.7-8.2-9.3-10.8-11-14.6-10-16.4-7.3-14.6-7.7-19.3-9.8-31.7-8.6-34.8-3.8-18.8-2.2-15-1.6-14-.8-14 0-12 1.1-14.4 1.7-12.3 3.3-14.3 5.9-19.4 21-59 6.2-14 9-16 22.6-33.7 14.5-19.3 4.6-5.6 10.5-11 17.4-14.7 8.1-5.7 10.3-6.6 18.2-9.8 23-9.8 20.2-6.4 23-4.4z"/>
<path fill="#ff8e00" d="M1451.8 181.2l10-.3 7.4 .7 9.9 2.6 6.2 3.6 2.5 2.2 2.4 3.2 3.7 7 2.1 7 1.4 10-.2 7-1.4 9.6-2 7.6-3.6 9.8-8 16.6-16.9 28.4-7 13-5.3 11.6-4.9 12.4-3.9 14.6-2.2 12-2.3 19.4-1.4 19.6-.9 41.4 1.3 95 .9 18 2.1 14.6 3.8 15.4 5.9 19 6.5 17 5.6 12 7.5 14.6 6.5 10 15.3 21.4 3.4 5.8 4 8 4.6 14.5 1.3 7.3 1.1 10.4 .3 14-1.4 12.6-2.3 7.4-3 5.2-4.6 4.3-6 3-11.4 2.6-10 1-6.6-.1-11.4-1.2-21-4.6-17.9-6.2-11.1-4.4-11.4-5.6-13.1-7-10.7-6.4-17.5-12-15.3-11.6-9-7.4-13.6-12-12.8-12.6-15.2-16.8-12.4-16.4-10-16.3-7.9-15.5-7.5-19-10-32-8.6-34.4-3.8-18.6-2.1-15-1.6-14.4-.8-13.6 0-12 1.1-14.4 1.9-13 3.1-13.6 5.7-19 20.9-58.7 6.6-14.7 8.4-15.2 23-34.4 14-18.8 5-5.9 10.3-10.7 17.3-14.6 8.2-6 9.8-6.1 18.1-9.9 23.3-9.9 19.6-6.2 23-4.4z"/>
<path fill="#ff8000" d="M1451.9 182.2l9.9-.2 7.4 .8 9.1 2.4 6.5 3.7 4.4 5.1 3.6 6.8 2 6.6 1.3 9.8-.1 7-1.3 9-2.2 8-3.4 9.6-7.9 16.4-17.1 28.6-7.7 14-5.2 11-5.6 14-3.6 13-2.5 12.4-2.4 19-1.6 21.6-1.1 39 .5 68.4 1.1 39.6 .5 7 2.1 13 2.9 11.4 4.9 15.6 3.2 9 7.8 18.4 12.1 23 6.9 10.6 15.4 21.5 3.4 5.8 4 8 4.6 14.3 1.4 7.9 1.1 9.5 .4 14-1.4 12.4-2.1 6.9-3 5.3-4.4 4.4-5.9 3-11.1 2.6-10 1-6.6-.1-11-1.2-21.4-4.8-17.5-6.1-11.1-4.4-13.5-6.6-12-6.4-10-6-17.5-12-14.6-11-9-7.6-19.7-18-12.6-13-9-10.4-11.6-15.1-10.5-17-8-15.7-7.5-18.8-10.1-32-8.8-35.2-3.6-17.8-2.2-15-1.6-14.4-.7-13.6 0-12 1.1-14.4 2-13.2 3-12.9 5.7-19.5 20.7-58.2 6.6-14.7 8.4-15.3 22.6-33.9 14-18.9 5-6 10.4-10.9 17.3-14.5 8.3-6 9.7-6 17.4-9.6 23.1-10 20.2-6.3 22.6-4.3z"/>
<path fill="#ff7100" d="M1456.9 183.2l9.3 .4 8.6 2 6 2.4 4.8 3.8 3.9 5.4 3.2 8 1.8 9.6 .1 8.4-1.8 11.9-5 15.3-8 16.7-21.2 35.1-9 17-4.6 10-3.3 9-2.9 10-2.3 10.6-3 20-1.6 16.4-1.4 22.6-.6 21 0 70 .7 28.4 .9 15 2.2 14.6 3.4 12.4 8.8 23.6 8.1 17.4 13.6 24.6 22.6 32.1 4 6.5 4.1 8.4 3.8 11.4 1.7 7.6 1.5 12 .4 8.4-.1 7.6-1.6 12-2.8 7.1-3.4 4.8-4 3.1-5.9 2.4-10.1 2.3-9.6 .8-6-.1-11-1.2-21-4.8-18.4-6.4-11-4.6-13.5-6.4-14.6-8-11.9-7.6-13.6-9.4-13.3-10-9.1-7.7-19.3-17.9-12-12.4-9.3-11-12.4-16.8-10.6-17.6-8.4-17.6-5.5-13.6-3.5-10.7-4.4-13.3-5.2-18.5-5.7-22.9-3.3-15.8-3.8-26.7-1.3-21.1 .1-10.4 1.1-15 1.9-13.3 3-13 5.2-17.7 6.8-20.2 14.6-39.8 6-13.7 9-16.2 21.4-32.7 15-20.2 14.6-15.8 17.4-14.8 8-5.6 9.6-6 18.4-10.1 23-9.9 19.6-6.1 23-4.2z"/>
<path fill="#ff6200" d="M1450 184.8l11.2-.2 6 .7 9 2.5 6 3.4 4.3 4.6 3.3 6.4 2 6.6 1.1 8.4-.3 8-1.5 9-3.9 12.9-3.8 9.1-9.2 17.6-13.3 21-11 18.4-7.7 15-4.8 12-5.1 18-3.3 19-2.2 17.6-1.9 24.4-1.3 45-.1 46 1.2 35.6 1 10 2.4 13 3.1 10.4 6.2 15 5.7 12 8.7 16 14.2 23 16.8 23 6.4 9.4 4.6 7.5 3.5 7.7 3.2 9.4 3 15 1.1 12-.1 10.6-1.6 11-1.7 4.4-1.9 3.6-4.1 4.5-6 3.2-11 2.7-9.4 .9-6.6-.1-11-1.2-20.4-4.8-20.3-7.2-9.7-4-12.6-6.1-13.9-7.5-14.5-9-15.6-11-10.3-7.9-21-18.5-13.7-14-7.4-8.4-15.3-19.6-9.5-15-10.4-20-7.8-19-10.4-32-8.6-34-3.6-17.6-2.1-15-1.6-14.4-.6-13.6 0-11 1.2-15.4 1.8-12.6 2.9-13 5.2-18 6.3-19 14.5-39.8 6.4-14.9 8.6-15.5 21.4-33.1 14-19 5.6-6.6 10-10.4 16.6-14.1 8.4-6 9.5-6 17.3-9.6 22.7-10 15.5-5.1 11-2.7 9.3-1.6 8.1-1.2z"/>
<path fill="#ff5400" d="M1447.4 186.2l13.4 0 6 .8 9 2.7 5.8 3.5 4.1 5 3.3 7.6 1.7 9 0 9.4-1.1 8-1.8 7-2.8 8.6-4 9.4-8.7 16.6-22 34-10.5 18.4-6.2 14-3 8.6-3 10.4-3.6 18.6-2.1 14.4-2.5 25-.9 14.6-1 32.4-.3 26.6-.1 19.4 .6 26 1.5 17.6 2.5 14 3.7 12 5 11.4 9.5 17.6 9.8 16 14.7 21.4 16.8 22.1 9.7 14.5 5.3 11 4.4 14.4 1.5 8 .9 8 .6 12-1.5 12.6-2.6 7-4 5.4-5.5 3.6-10.8 2.9-10.4 1.1-6-.1-10.6-1.1-8.4-1.7-12.6-3.3-20.4-7.4-9.6-3.9-13-6.2-14-7.5-14.2-8.8-15.7-11-9.5-7.5-20.4-18.1-19.3-20.4-16.5-21.6-9.5-15-10.3-20-7.8-18.4-10.8-32.6-8.4-32.7-4.2-20.7-2.6-20-.9-12.6-.2-19.4 1.1-14.6 2.1-14.4 3.7-15.6 3.9-13.4 12.8-38 10.7-27.8 3.8-8.2 5.6-10.6 17.2-27.7 7.5-11.3 11-15 6.9-8.4 9-9.6 12.4-11 14.6-10.9 10.6-6.5 12-6.7 24.8-11.3 15.6-5.4 16-3.7 12-1.7z"/>
<path fill="#ff4500" d="M1446.3 187.8l14 .1 5.5 .7 8.6 2.6 5.8 3.6 4 5 3.1 7.4 1.5 8.6-.2 9.4-1.5 9-2.9 10.1-3.6 9.5-3.5 7.4-9.3 16.6-19.9 29.4-11.5 19-5.2 10.6-3.3 8-4.7 14.4-3.9 18-2.4 14-3 25-1.2 15-1.6 45-.5 33.6 .5 21 1 16.4 1.9 13.6 3 12.4 5.5 14 8.9 16 10.7 16 20.3 27.6 16.8 21.2 7.5 10.8 3.9 6.4 3.6 7.6 4.5 14 2.3 11.4 1.4 17-1.4 12.6-2.2 6.4-3.8 5.6-5.2 3.5-10.6 3-10.4 1.2-6-.1-10.6-1.2-8.4-1.8-12-3.2-21-7.7-9-3.7-13-6.2-14.6-7.7-14-8.6-15-10.5-9.4-7.4-19.8-17.6-18.6-20-16.7-22-9.5-15.1-10.4-20.5-7.8-18.4-11-32.6-8.4-32-4.2-21-2.4-19.4-.9-12-.2-20.1 1.1-14.5 2-14 3.7-16 3.7-13 12.6-37.4 11.1-28.6 3.6-8 5.5-10.4 16.8-27.6 7.3-11 10.6-14.4 7.3-9.2 9-9.4 12.3-11 14.3-10.6 11-6.8 11.7-6.6 24.7-11.4 15.6-5.4 15.4-3.5 12-1.6z"/>
<path fill="#ff3700" d="M1445.1 189.2l9.1 .1 10.6 .9 8.4 2.7 5.6 3.3 3.6 4.6 3.1 7.4 1.3 8.6-.2 9-1.6 9-3 10.4-3.5 9-3.8 8-8.9 15.6-21.2 30.4-12.5 19.6-4.7 9-4 9-5.8 17.4-6 27-3.5 25.1-1.5 15.9-1.7 32-.8 30.6-.2 17 .5 20 1.2 17.4 2.4 15 3.6 13.6 5.8 13 9.6 15.4 8.5 11.6 39.7 48.5 8.4 11.5 6.6 11 3.3 7.4 3.4 10.6 2.7 12 1.5 15.4-.8 11-.8 4.6-1.3 3.4-3.8 6-2.2 2-3 1.7-10 3-10.4 1.2-5.6 0-10-1.1-8.4-1.7-12.6-3.5-30-11.5-13-6.1-14.4-7.7-13.6-8.3-15.4-10.7-9-7.1-9.6-8.2-10.1-9.4-17.4-19-14.4-19.1-12-18.9-10.5-20.6-7.8-18.4-11.1-32-8.3-31.6-4.2-21-2.4-19-.8-10.4-.2-21.6 1-14.4 1.8-13 4.5-19.6 11.5-37 12-32 8.3-19 5.7-10.4 9.4-15.9 11-17.1 8.3-11.6 10.7-13.6 12-12.3 9-7.9 8.6-6.6 18.7-12 18.7-10 16-7.2 9.6-3.4 10-3 8.4-1.8 13.6-1.7z"/>
<path fill="#ff2800" d="M1442.1 190.8l10.1-.1 11 1 8.3 2.5 5.7 3.5 3.6 4.5 2.8 7 1.2 9-.4 9-1.6 8.6-2.9 10-3.5 9-4.4 9-8.2 14-28.4 39.4-7.5 11.6-9.4 18-3.8 9.4-3.2 10-4.7 18-2.9 15-4.3 32.6-1.9 30.4-1.1 31.6-.3 17 .5 20.4 1.4 18 2.7 16 4.1 13.6 6.9 14 7 10.4 5.9 7.6 8.4 10 30 33 14 16.6 10.7 16.4 3.9 8.4 3.4 10 3 12.6 1.6 14.4-.6 10.8-.8 4.8-1.2 3.4-3.8 6-4.6 3.4-9.6 2.9-10.4 1.3-5.6-.1-9.4-1-8.6-1.7-12.4-3.5-30-11.6-13-6.1-15-8-13.6-8.2-15-10.5-8.6-6.9-9.4-8-9.8-9.4-16.6-18.5-14.6-19.5-11.5-18.6-10.6-21-7.9-18.4-11.1-31.6-6.7-24-5.7-26.4-3.3-30-.3-22 1.1-15 1.8-13 4.5-20 10.9-35.6 11.8-31.8 8.4-19.2 9.2-17 5.7-9.4 10.3-16.1 7.6-10.9 11.8-15.2 11.5-11.8 9.2-8 8.3-6.6 17.6-11.4 19.4-10.5 16-7.4 9-3.3 10-3 8-1.8 12-1.6z"/>
<path fill="#ff1a00" d="M1437.2 192.2l12-.1 12.6 1.1 8 2.5 5.4 3.2 2.4 2.3 1.6 2.6 2.6 7 1 9.4-.8 9-1.4 7.6-2.9 9.4-3.7 9.6-5.7 11.4-9.7 15-26.3 34.6-11 16.4-5.9 10.6-4.2 9-7.4 21-3.4 12.4-2.8 13-2.5 14.6-2.6 20-2.1 27.4-1.4 32.6-.4 17 .6 21 1.6 19 3.1 16.4 4.9 14.6 7.6 14 7.8 10.4 7 8 9 9.5 24.6 23.9 19.9 22.2 6.4 9 5 8 3.9 8.4 3.1 8.6 3.6 13.4 1.8 13.6-.2 10-2 9-3.5 6.1-2 1.9-2.6 1.5-9.3 2.9-10.1 1.3-5.6-.1-9.4-1-9-1.9-12-3.4-21.1-8-8.9-3.8-14-6.7-17-9.1-19.3-12.7-14.4-11-9.2-8-9.3-9-15.8-18-15.7-21.6-10.7-18-10.4-21-7.1-16.4-4.2-11-7.9-22.6-5.7-20-2.4-10-4.1-20-3.1-27.4-.2-22.6 1-15 1.4-10 4.4-21.4 7.9-27 9.8-28 12.1-30 11.1-21 8.7-14.6 9.9-15 15.2-20 11-11.5 10.1-8.9 7.6-6 16.3-10.8 20.4-11.2 15.6-7.4 7-2.7 16-4.8 7.4-1.4z"/>
<path fill="#ff0b00" d="M1434.3 193.8l13.9-.2 12.6 1.3 7.4 2.2 5.4 3.1 3.7 4.6 2.6 7 .8 9.4-.9 9.6-2.9 12-2.9 8.4-7.5 16-9.9 15-27.1 33.6-11.9 17-6.3 10.4-4.6 9-4.9 11.6-4.7 13.4-2.8 9-4 17.6-4.8 30.4-2.3 26-1.7 33-.5 18 .5 21.6 1.9 19 3.6 17.4 5.4 15 6.7 11.6 4.7 6.7 9.7 10.7 13.6 13 25.7 22.7 17.4 18.1 5.6 6.9 8 12.1 5.4 11.8 3.2 9 2.2 8 2.3 13.4 .4 9.6-1.7 10-3.4 6.4-4.1 3.6-8.9 3-10.4 1.4-5.6 0-9.4-1.1-8.6-1.8-12-3.5-20.4-7.8-9.6-4.1-13.4-6.4-17.6-9.4-19.3-12.9-13.7-10.4-9.4-8.4-8.9-8.6-14.7-17-15.4-21.6-11-18.8-10.1-20.6-11.8-28-7.9-22-6.7-23.5-5.5-25-3.1-28.5-.3-22 1.1-15 1.4-10.6 4.4-21.4 7.4-26 9.7-28 12-30 10.9-21 16.9-27.6 9.4-13 7.2-9 10.4-11 11.6-10.1 13.9-10.3 10.1-6.3 13.6-7.7 23.4-11.4 9.4-3.4 9-2.6 8-1.6z"/>
<path fill="#fb0000" d="M1431.1 195.2l7.7-.4 8.4 .2 12 1.4 7 2 5.6 3.1 2.2 2.3 1.6 2.4 2.3 6.6 .7 9.4-1.2 10.6-2.6 10.9-2.8 8.1-7.6 16-9.5 14-28.4 33.4-7.2 9.6-8.6 12.4-6.8 11.6-3.8 7.4-5.5 12.6-5.1 13.4-3.9 13.6-3.1 13.4-4 24-2.5 26-2.1 33-.6 26 .5 15.6 2.1 19.4 3.9 18 6.1 15.6 6.5 10.4 6.4 8.6 11 10.8 15 12.8 25 20.4 9 8.2 8.4 8.8 5.6 6.3 6 8.4 4.4 7.2 4 8.6 3.6 9.5 2.4 8 2.3 12.4 .6 9.6-1.4 9.4-2.9 6.3-1.9 2.3-2.1 1.6-3.6 1.6-5 1.5-10.4 1.5-5-.1-9-.9-9.1-1.8-11.5-3.3-29.4-11.8-13-6.2-13.5-7.1-14.1-8.5-20.7-15.1-15.1-13.4-6.5-6.6-7.1-8.2-10-12.4-15-22.6-8-14.7-8.6-18-12.4-29.5-8.1-21.6-6.9-23.1-5.6-24.5-1.4-10.4-1.9-19-.1-21.2 1-14.8 1.4-11.3 4.2-20.6 7.3-26.1 7.5-22.4 13.9-35.6 10.7-20.9 15.8-26.1 11.2-15.4 9-10.8 8-8.2 6.7-6 16.8-13 11-7 13.5-7.7 23-11.4 8.4-3.2 9-2.7 8-1.6z"/>
<path fill="#ed0000" d="M1433.8 196.2l14 .2 11.4 1.7 7 2.5 4.6 3.1 2 2.3 1.4 2.7 1.7 6.1 .5 8.4-1.5 12-2.2 9-2.9 8.8-5.3 11.2-4.3 7.2-8 10.9-26.5 29.9-13.7 17.6-8.2 12-12 19.9-10.2 15.5-3.2 6-3.9 9-4.5 16-3.2 22.4-6.2 74.6-.8 18.6 .6 20 1.7 14 4.3 18.4 6.7 15 6.6 9.6 6.7 7.4 6.1 5.6 12.9 10 35.4 25.2 16.4 13.5 9 8.7 7 8.1 7 9.3 4.6 8 4.7 11.2 3.5 12 1.9 14.4-.2 5.6-1 5.5-1.1 3-1.8 3.3-1.8 2.2-2.2 1.6-8.6 3-10 1.4-5-.1-8.9-1-8.5-1.7-11.6-3.4-29-11.7-13-6.3-12.7-6.8-14-8.6-20.2-15-14.9-13.4-6.6-6.9-6.5-7.7-10.5-13.8-7.5-12.2-4.5-8.5-5.5-13.5-4.8-15.4-7.4-21-4.3-10.6-13-26.4-7-16.8-4-11.9-4.4-16.4-2-10.9-2-19-.3-19.6 1-15 1.7-13 4-19.9 9.4-34.4 8-23.1 10-25.7 10-20.2 16-26.5 7.6-10.6 9.1-11.6 10.3-10.9 11.5-10.1 13.5-10 24.1-14.4 22.5-11.3 9-3.4 8.4-2.4 8-1.6z"/>
<path fill="#de0000" d="M1429 197.8l10.7-.5 13.1 1.3 9 2.4 4.1 2.2 2.9 2.5 2 2.6 1.5 3.5 1.6 8.4-.6 11.6-2.1 10.4-2.5 8.5-3.3 8.1-3.2 6.4-5.1 8-10.3 12.7-24.8 26.9-24.2 30.9-23.3 26.1-6.9 9.4-5.4 10.5-2.7 9.1-1.9 10.4-1.4 13.9-1.5 27.2-2.4 24.9-6.4 50-.8 13 .1 13 1.5 12.5 4.2 17.1 5.4 11 3.5 5.4 4 5 7.9 7.6 10.1 8 44.4 29.3 20.6 15.2 12 10.2 8.4 8.2 9.7 10.5 6.9 9.5 4.4 8.9 3.6 11 1.9 13.6-.2 5-1 5.6-2.7 5.9-1.7 2.1-2 1.4-7.9 3-9.4 1.4-4.6 0-9-.9-8.4-1.7-10.6-2.9-24-9.4-21.4-10.5-18-10.4-17.6-13-12.7-11-8.5-8.6-7-8-6.6-9-6.6-10.4-3.8-7.6-4.5-10.4-2.7-8.5-2.3-10.5-3.3-21.6-2.5-9.4-3.1-8.6-5-10-15.4-23.5-4.3-7.5-5.7-10.7-3.7-8.7-4.4-12.6-2.5-9.4-2.6-14.6-1.2-10.4-.5-13 .3-10 .7-10 1.8-13.6 3.6-17.4 15.1-58.5 7-21.5 6-13.8 9-17.5 10-16.6 11.4-16.2 9.6-11.4 8-8.1 6-5.4 16-12.6 25.6-16 21.4-11.1 8-3.2 8.4-2.6 8.6-1.8z"/>
<path fill="#d00000" d="M1430.6 198.8l10.2-.1 7 .6 5 1.2 4.7 1.7 2.5 1.6 3.5 3 2.5 3 2.1 4 1.4 4.4 .8 4.6 .4 6-.3 5-1.2 7.3-2.8 10.7-6.1 13.4-4.2 6.6-5.9 7.5-28.2 29.9-20.2 23.5-36.7 35.5-6 7-4.1 6.6-3.7 9-2.2 11.4-1.8 46.6-2.8 27.4-3.6 20.6-8.1 36.6-2 5-2.5 3.8-5.1 6.3-5.4 5.6-6 5-5.6 3.5-5 2.3-2.4 0-2.6-1.6-4-3.6-12-12.6-8-10.4-6-9.9-5.3-11.6-4-12-3.2-15-1.6-13-.4-11.4 .5-13.6 1.2-11 1.7-10 4.4-18 12.4-40.4 6.9-34.6 3.4-11.3 5-12.1 4.6-8.8 8-13.7 5-7.5 8.4-11.6 7.6-8.9 9-9.1 6.6-6 12.7-10 14.6-10 16.4-10.4 12.7-7 8.4-4 11-3.9 10-2.3zM1317 599.8l7.2-.3 9 .6 10 1.5 4 1.5 20.8 14.7 39.2 23.1 16 10.3 17 12.2 16 13.2 11.6 11 9.6 10.6 6.8 9.1 4 7.7 1.7 4.8 1.4 6 1.2 10-1.3 8.9-1.4 3.5-2 2.9-3 2.4-5.6 2.1-5.4 1.2-7.6 .7-8.4-.5-7-1.2-15-4.1-23.7-9.5-20.7-10.4-17.3-11-19.1-15.6-11.3-11-6.7-7.4-5.6-7-8.9-14-3.6-7-2.4-6-3.6-12.6-1.2-11.4 .5-11 1.4-13.6 1.2-3.3z"/>
<path fill="#c10000" d="M1425.5 200.2l13.3-.3 10 1.7 3.5 1.6 3.9 3 3.6 3.2 2.7 3.4 1.7 3.4 1.4 5 1 6.6 .3 5.4-1.1 11.6-1.3 5.4-2.3 6.3-3 6.7-4.2 7-5.4 7-7.4 8.3-41 42-44.5 39.3-6.4 7-5.3 7.4-2.6 6-1.1 7 .8 41-.5 13.6-.9 11.4-3.3 22-2.8 12.6-2.4 7.9-3 7.3-4.7 8.2-5.5 7.6-5.8 6-6 4.7-6 3.1-7 2-4.4-.3-2.6-1.3-3.4-2.9-7.5-7.9-6.1-8.9-5.3-10.6-3.7-10.5-2.8-12-1.6-11.4-.6-13 1-18 1.4-10 2-9.6 5.3-18 10.8-28.4 3-9.6 2.4-10.4 3.9-26.6 2.2-9 3.4-10.4 3.7-8.6 4.5-8.3 4.5-7.7 6.5-9.2 12.6-15.2 14.4-13.5 12-9.5 27.4-20 14.4-9 8.2-4.2 9-3.5 8-2.3zM1337.6 618.2l10.6 .3 9 1.6 6 2.6 23.6 11.7 19 10.6 16.4 10.4 17 12.1 16 13.1 11 10.3 9 9.8 7.6 9.7 4.4 7.9 2.8 8.9 1 8.6-1.2 8.4-1.2 3-1.8 2.8-3 2.4-5 2-5.6 1.3-7 .6-8-.4-7-1.1-14.4-3.9-23.7-9.7-17.1-9-16.5-11-16.1-13-14-13.4-12.1-14.6-8.4-13.4-3.3-7-2.5-7-1.6-7.6-.6-8 .7-7 1.6-6.1 1.6-2.5 2-1.4 4.4-1.2z"/>
<path fill="#b30000" d="M1426.6 201.2l11.3 0 3.9 .7 3.8 1.3 3.6 2.2 4.3 3.4 4 4 2.3 3.1 1.5 3.9 1.3 6 .7 5.4 0 6-1.5 11.6-3.6 11-5.5 10-8.3 10.4-9.2 9.5-30.6 29.5-22.4 19.6-29.4 23.1-13.3 8.3-3.4 3-2.3 3-2.5 6-.6 7 .8 7 4.8 27 .8 11-.1 11.6-.7 11.4-1.3 10-1.8 9.8-2.4 9.2-3.8 10-4.6 9-5.3 8-5.9 6.5-6 4.7-6.4 3.2-7 1.2-3-.2-2.6-.7-5-3.7-6.4-7.9-5.1-8.5-3.9-9.6-3-10.9-1.9-11.1-.8-11.4 .3-13 2.2-17 4.5-17.6 6.4-17 11.5-24.4 3.1-9 1.7-9.6 1.3-18 1.5-11 2.8-11.4 4-10.6 7.4-14.4 10-14.6 11.2-13 14.8-13.3 26-19.6 14.9-12.5 9.7-6.6 7.6-4 9-3.4 7.8-2.2zM1344.1 627.8l9.7-.1 10 1.6 11 4.2 14 6.5 15 8 16.4 10.1 16.6 11.5 16 12.8 11 10.1 8.7 9.3 7.6 9.4 5.2 8.6 2.9 8 1.1 7.4-1 8-1.2 3-1.6 2.6-3.2 2.4-4.9 2-4.6 1.1-6.6 .7-7.4-.3-6.5-.9-14.1-3.7-16.1-6.3-17-8.6-15.5-10-18.4-14.1-15.3-14.3-11.6-13.6-7.7-11.4-3.5-7-2.5-6.6-1.7-6.4-.6-6 .4-6 1.5-5.7 1.6-2.4 2.4-1.7 4.6-1.4z"/>
<path fill="#a40000" d="M1423.4 202.7l10.4-.2 4 .6 3.3 1.1 4.5 2.6 4.2 3.1 4.4 4.3 2.6 3.6 1.4 3.4 1.4 6 .6 11.1-1.4 10.5-3.6 11-3.1 6-3.2 5-4.2 5.4-5.4 6-8.5 8.4-40 36.4-14.6 11.5-20 14.3-4.4 2.5-13.4 5.5-7.2 3.4-5.9 4-3.6 4-1.9 5 .1 6.6 9.1 31.4 1.9 10 1.1 10 .3 10-.5 10-1.2 9.6-2 9.4-3.2 10.6-4.3 10-5.1 8.4-5.8 7-6 4.9-6.4 3-6.6 .9-6-1.2-2.4-1.5-2.6-2.3-5-6.5-4.2-8.3-3.2-9-2.4-10-1.4-10-.4-10.4 .6-11 1.2-9.6 1.7-8.4 2.7-9.6 3.1-8.4 6.9-14.6 14.1-23.4 3.1-7.6 1.1-8.4-.7-18 .7-12 2.2-11.6 4.6-13 6.1-12 8.8-13 10-11.7 11.9-11.3 29-22.3 16.6-15.1 7.3-5.6 6.1-3.4 7.5-3.3 7.6-2.3zM1348.9 634.8l9.3-.3 10.6 1.5 9 3 12.4 5.6 12.6 6.4 16 9.6 16 11 15 11.7 11 9.7 9 9.2 7.3 9 5.4 8.6 3.3 8 1.3 7-.8 7-2.5 5-2.8 2.4-3.9 2-5.2 1.6-5.7 .7-11.6-.7-6.8-1.4-7.9-2.2-16.4-6.4-14.5-7.6-15.2-9.8-16-12.2-14.3-13-11.5-12.4-8.9-12.6-3-5.4-2.7-6.6-1.8-6-.8-5.4 .1-5.6 1-4.4 1.5-2.6 2.4-1.7 4-1.7z"/>
<path fill="#950000" d="M1421.7 204.2l5.5-.4 5 .4 4 .9 4 1.8 5 3.2 4.3 3.7 3.9 4.4 1.8 3.6 1.5 6 .7 6-.1 6.4-.8 6.6-1.7 6.4-2.3 6-3.1 6-3.7 5.6-5.3 6.4-6.6 6.8-41.6 37.3-15.4 12.3-16.6 11.3-4.4 2.6-4.6 1.9-23 6.6-12 2.2-4-.1-2.4-.9-1.6-1.8-1.3-3.2-2.7-11.4-.7-9 .8-10.6 2.5-9.9 3.8-10.1 4.7-9 6.6-10 9.3-11.4 9-8.9 9-7.7 24-18.4 21.7-20.6 6-4 6.2-3 7.3-2.4zM1298.6 385.2l2.6-.4 2.6 .5 2.4 1.1 3 2.4 5.6 6.9 5 9.5 3.9 10.6 2.7 11.4 1.3 12-.1 12-1.3 12-2.6 11.6-3.7 10.4-4.7 9-5.5 7.5-6 5.3-6 2.9-3.6 .8-3 0-5.4-1.3-4.6-2.9-4.1-5.3-3.8-7.4-3.1-9-2.1-10-1.1-10.6 .2-12 1.2-10.4 2-10 3-10 3.8-9.3 5.5-10.2 6.1-8.4 5.4-5.9zM1355 640.2l9.2 0 10 1.7 8.6 2.9 12.4 5.6 14 7.5 14 8.8 12.6 8.7 14 10.9 10 8.8 8.4 8.6 6.6 8.1 5.1 8 3.2 7.4 1.4 6.6-.7 6.4-2.3 4.6-2.7 2.4-3.6 2-4.4 1.5-5 .8-6 .1-6-.6-13.5-3.2-14.1-5.6-14-7.2-15.4-10.1-15.3-11.7-13.3-12-11.1-12-8.7-12-5.3-10.4-1.8-6-.8-5 .1-5 1.1-4 1.5-2.1 3-2 4-1.5z"/>
<path fill="#870000" d="M1421.9 205.8l4.9-.2 4.4 .6 4.6 1.5 4.4 2.3 4.6 3.2 4 3.9 2.7 3.7 1.6 3.4 1.2 5.6 .5 6-.2 6-.9 6-1.7 6-2.2 5.4-3 5.6-3.8 5.4-5.1 6-6.1 6.1-41.6 36.6-14.4 11.2-15 9.8-4.6 2.4-6 2-8.4 2.2-8 1.4-6 .5-5.5-.2-4.5-.8-3-1.5-1.6-1.7-1.4-2.9-2.2-7.5-.6-9 1-8.6 2.3-8.4 3.9-9.6 5-9 5.9-8.4 7.6-9 8.1-8 8.4-7.2 23.6-18.3 17.9-18.1 5.6-5 5.2-3.4 6.3-3 6.3-2zM1296.5 397.2l5.3-.1 4.9 2.2 5.1 4.7 4.4 7 3.5 8.2 2.5 9.6 1.3 10.4 .2 10.6-1 10.4-2.1 10-3.2 9.6-3.9 8-4.7 6.7-5.1 4.7-5.5 3.1-6 .9-5-1-4.4-2.7-3.6-3.8-3.2-5.9-2.7-7.6-1.9-8.4-1.1-9 0-10.6 .7-9 1.8-9.4 2.7-9.6 3.2-8 4.3-8 4.8-6.7 4.4-4.3zM1358.9 645.2l8.3-.1 9.6 1.4 8.4 2.6 11 4.8 13 6.9 13 8 12.6 8.7 13.4 10.3 9.6 8.2 8 7.9 6.5 7.9 4.9 7.5 3.1 6.9 1.5 6.6-.4 5.4-2.2 4.6-2.6 2.4-3.4 2-4 1.4-4.4 .8-5.6 .2-5.4-.5-12-2.7-13-4.9-14-7.1-14.6-9.4-13.4-10.2-13.1-11.6-11.8-12.4-7.8-10.6-5.8-11-1.6-5-.8-5 0-4 .9-3.4 1.4-2.1 3-2.1 3.6-1.4z"/>
<path fill="#800000" d="M1421.2 207.8l4.6-.1 4.4 .8 4.6 1.5 4 2.1 4 2.8 3.9 3.8 2.6 3.5 1.5 3.6 1.1 5 .5 6-.2 5.4-.9 5.6-1.7 6-2.2 5-2.7 5-3.9 5.4-4.9 5.6-5.6 5.4-19.6 16.6-20.5 18.1-13.4 10.6-14.6 9.3-4.4 2.2-5.6 1.8-7.4 1.7-7 1-6.1 .2-4.9-.5-4.6-1.2-3-1.7-2.5-3.5-2.1-7-.3-7.6 1-7.4 2.3-8 3.1-7.6 4.8-8.4 5.7-8 6-7.3 7.3-7.3 8.3-7 23-18.1 18.2-18.9 6-5.4 4.8-3.5 5-2.6 5.6-1.9zM1295.6 406.2l5.2-.2 4.4 1.7 4.1 3.5 3.9 5.6 3 6.9 2.2 8.1 1.2 8.4 .2 9-.7 9-1.8 9-2.6 8.1-3.5 7.1-4 5.8-4.4 4.3-5 2.8-5 .8-4.6-1.1-3.7-2.2-3.4-3.6-2.9-4.7-2.4-6.7-1.5-7-.8-7.6-.1-8.4 .6-8 1.5-8.6 2.2-8 3-7.4 3.5-6.7 3.6-4.7 3.4-3.1zM1363.1 649.8l7.1-.3 8.6 1.2 8.4 2.4 9.6 3.9 12.4 6.6 12.6 7.6 13 8.8 13 9.9 9 7.7 7.4 7.4 6.1 7.2 4.6 7 2.9 6.6 1.4 6.5-.4 4.9-2 4-2.6 2.4-3 1.7-4 1.4-4 .7-10-.2-11-2.4-12-4.4-13-6.6-12-7.5-12.8-9.5-13.9-12-11.1-11.6-8.1-10.5-5.8-10.5-2.5-8.4-.2-4 .7-3 1.6-2.6 2.5-2 3.2-1.4z"/>
<path fill="#800000" d="M1419 210.2l4.8-.2 4 .4 4.4 1.3 4 1.8 4 2.6 3.5 3.1 3.1 3.9 1.6 3.1 1.1 4.6 .5 5.4-.1 5.6-.9 5.4-1.5 5.6-2.1 5-2.6 4.6-3.6 5-4.4 5.1-5.6 5.3-20.5 17-19.9 17.4-11.6 9.1-13 8.3-4.4 2.3-5.6 1.7-6.4 1.5-6.6 .7-5.4 0-4.6-.6-4-1.2-3.4-1.9-2.6-3.1-1.5-5.2-.4-6.5 .9-7.1 2-7 3-7 4.2-7.4 5.3-7.6 6.1-7 8.1-8 22.3-17.5 7-6.1 16.6-17.9 6-5.7 4.3-3.2 4.7-2.7 4.7-1.9zM1295.8 414.2l4-.2 4 1.5 3.4 2.9 3 4.2 2.6 5.6 1.9 6.6 1 7.4 .2 7.6-.6 7.4-1.5 7.6-2.1 6.4-2.9 6.2-3.6 5-4 3.8-4 2-4 .6-3.4-.7-3.6-2.1-3-3.2-2.4-4.1-2-5.1-1.4-5.8-.7-6.6-.1-7 .6-7 1.3-7.4 1.7-6.1 2.6-6.3 2.9-5.2 3.1-3.7 3.4-2.8zM1369.2 653.8l7 .2 8 1.5 8.6 2.7 9 4 10.2 5.6 12.1 7.4 13 9 11.2 8.6 8.1 7 6.8 6.8 5.5 6.6 4.1 6.3 2.5 5.7 1.4 6-.5 5-1.8 3.6-2.6 2.3-3 1.6-7.6 1.7-9.4-.3-10.3-2.3-11.8-4.6-11.7-6-11.1-7-12.6-9.4-12.6-11-11-11.6-7.6-10-5.1-9.4-1.5-4.6-.8-4 .1-3 1-2.4 2-2.4 3-1.9 3.4-1.2z"/>
<path fill="#800000" d="M1418.7 213.2l4.1-.2 4 .3 3.8 .9 4.2 1.9 3.8 2.7 3.2 2.9 2.4 3.2 1.6 3.1 1 4.5 .3 4.7-.9 9.6-1.4 5.1-2 4.7-2.6 4.4-3.4 4.9-9.2 9.3-20.8 16.8-20.3 17.8-11.1 8.4-11.1 7-4.4 2-5.1 1.6-11 1.6-4.6-.2-4.4-.7-3.5-1.3-3.1-1.8-2.4-3.1-1.1-4.1-.2-6 1.2-7 2.1-5.9 3-6.4 4-6.5 4.4-6.1 5.6-6.3 7-6.8 21.4-16.9 6.6-5.7 17-18.8 5.1-5 8-5.6 4.7-2zM1297.3 422.2l2.9 .4 3 1.6 2.6 2.6 2.1 3.4 1.7 4.6 1.2 5 .7 6-.1 6-.6 5.8-1.5 6.2-1.6 4.4-2.5 4.9-2.4 3.4-3 2.7-3 1.4-3 .4-3-.7-2.6-1.6-2.4-2.8-2.1-3.7-1.5-4-1.1-5-.5-5.4 .1-6 1.9-11.6 3.6-9 2.6-3.7 2.4-2.6 3-1.9zM1371.2 658.2l6 0 7 1.1 8.4 2.5 9.5 4 8.5 4.4 11.6 7 12.6 8.6 10.1 7.4 8.3 7.1 6.6 6.2 5 5.7 4.4 6.5 3 6 1.3 5.1-.1 4.4-1.6 3.6-2.2 2-2.8 1.4-6.3 1.6-8.3-.2-8.9-1.8-10-3.6-11.3-5.4-10.7-6.6-11.1-8-12.9-11-9.5-9.5-9-10.9-5-8.4-2.7-7.6-.3-3 .4-2.2 1.5-2.4 2.1-1.8 3-1.4z"/>
</g></g>
<clipPath id="gc1507"><circle cx="1507.9" cy="472.2" r="271.1"/></clipPath><g fill="none" stroke="#000" clip-path="url(#gc1507)"><path class="gp" d="M1436.8 737.5H1579.0"/><path class="gp" d="M1370.6 710.1H1645.2"/><path class="gp" d="M1313.7 666.4H1702.1"/><path class="gp" d="M1270.0 609.5H1745.8"/><path class="gp" d="M1242.6 543.3H1773.2"/><path class="gp" d="M1233.2 472.2H1782.6"/><path class="gp" d="M1242.6 401.1H1773.2"/><path class="gp" d="M1270.0 334.9H1745.8"/><path class="gp" d="M1313.7 278.0H1702.1"/><path class="gp" d="M1370.6 234.3H1645.2"/><path class="gp" d="M1436.8 206.9H1579.0"/><path class="gm" d="M1507.9 746.9L1495.6 746.5L1483.3 745.4L1471.0 743.5L1458.9 740.9L1446.9 737.5L1435.0 733.5L1423.4 728.7L1412.0 723.2L1400.9 717.0L1390.0 710.1L1379.5 702.6L1369.3 694.4L1359.5 685.7L1350.1 676.3L1341.2 666.4L1332.7 656.0L1324.7 645.1L1317.1 633.7L1310.2 621.8L1303.7 609.5L1297.8 596.9L1292.5 583.9L1287.8 570.6L1283.7 557.1L1280.1 543.3L1277.3 529.3L1275.0 515.2L1273.4 500.9L1272.4 486.6L1272.1 472.2L1272.4 457.8L1273.4 443.5L1275.0 429.2L1277.3 415.1L1280.1 401.1L1283.7 387.3L1287.8 373.8L1292.5 360.5L1297.8 347.5L1303.7 334.9L1310.2 322.6L1317.1 310.7L1324.7 299.3L1332.7 288.4L1341.2 278.0L1350.1 268.1L1359.5 258.7L1369.3 250.0L1379.5 241.8L1390.0 234.3L1400.9 227.4L1412.0 221.2L1423.4 215.7L1435.0 210.9L1446.9 206.9L1458.9 203.5L1471.0 200.9L1483.3 199.0L1495.6 197.9L1507.9 197.5"/><path class="gm" d="M1507.9 746.9L1500.9 746.5L1493.9 745.4L1487.0 743.5L1480.1 740.9L1473.3 737.5L1466.6 733.5L1460.0 728.7L1453.5 723.2L1447.2 717.0L1441.0 710.1L1435.1 702.6L1429.3 694.4L1423.7 685.7L1418.4 676.3L1413.3 666.4L1408.5 656.0L1404.0 645.1L1399.7 633.7L1395.8 621.8L1392.1 609.5L1388.8 596.9L1385.7 583.9L1383.1 570.6L1380.7 557.1L1378.7 543.3L1377.1 529.3L1375.8 515.2L1374.9 500.9L1374.4 486.6L1374.2 472.2L1374.4 457.8L1374.9 443.5L1375.8 429.2L1377.1 415.1L1378.7 401.1L1380.7 387.3L1383.1 373.8L1385.7 360.5L1388.8 347.5L1392.1 334.9L1395.8 322.6L1399.7 310.7L1404.0 299.3L1408.5 288.4L1413.3 278.0L1418.4 268.1L1423.7 258.7L1429.3 250.0L1435.1 241.8L1441.0 234.3L1447.2 227.4L1453.5 221.2L1460.0 215.7L1466.6 210.9L1473.3 206.9L1480.1 203.5L1487.0 200.9L1493.9 199.0L1500.9 197.9L1507.9 197.5"/><path class="gc" d="M1507.9 746.9L1508.1 746.5L1508.3 745.4L1508.6 743.5L1508.8 740.9L1509.0 737.5L1509.2 733.5L1509.4 728.7L1509.6 723.2L1509.8 717.0L1510.0 710.1L1510.2 702.6L1510.4 694.4L1510.5 685.7L1510.7 676.3L1510.8 666.4L1511.0 656.0L1511.1 645.1L1511.3 633.7L1511.4 621.8L1511.5 609.5L1511.6 596.9L1511.7 583.9L1511.8 570.6L1511.9 557.1L1511.9 543.3L1512.0 529.3L1512.0 515.2L1512.0 500.9L1512.1 486.6L1512.1 472.2L1512.1 457.8L1512.0 443.5L1512.0 429.2L1512.0 415.1L1511.9 401.1L1511.9 387.3L1511.8 373.8L1511.7 360.5L1511.6 347.5L1511.5 334.9L1511.4 322.6L1511.3 310.7L1511.1 299.3L1511.0 288.4L1510.8 278.0L1510.7 268.1L1510.5 258.7L1510.4 250.0L1510.2 241.8L1510.0 234.3L1509.8 227.4L1509.6 221.2L1509.4 215.7L1509.2 210.9L1509.0 206.9L1508.8 203.5L1508.6 200.9L1508.3 199.0L1508.1 197.9L1507.9 197.5"/><path class="gm" d="M1507.9 746.9L1515.3 746.5L1522.6 745.4L1529.9 743.5L1537.2 740.9L1544.4 737.5L1551.5 733.5L1558.4 728.7L1565.2 723.2L1571.9 717.0L1578.4 710.1L1584.7 702.6L1590.7 694.4L1596.6 685.7L1602.2 676.3L1607.6 666.4L1612.6 656.0L1617.4 645.1L1621.9 633.7L1626.1 621.8L1630.0 609.5L1633.5 596.9L1636.7 583.9L1639.5 570.6L1641.9 557.1L1644.0 543.3L1645.8 529.3L1647.1 515.2L1648.1 500.9L1648.7 486.6L1648.8 472.2L1648.7 457.8L1648.1 443.5L1647.1 429.2L1645.8 415.1L1644.0 401.1L1641.9 387.3L1639.5 373.8L1636.7 360.5L1633.5 347.5L1630.0 334.9L1626.1 322.6L1621.9 310.7L1617.4 299.3L1612.6 288.4L1607.6 278.0L1602.2 268.1L1596.6 258.7L1590.7 250.0L1584.7 241.8L1578.4 234.3L1571.9 227.4L1565.2 221.2L1558.4 215.7L1551.5 210.9L1544.4 206.9L1537.2 203.5L1529.9 200.9L1522.6 199.0L1515.3 197.9L1507.9 197.5"/><path class="gm" d="M1507.9 746.9L1520.5 746.5L1533.0 745.4L1545.4 743.5L1557.8 740.9L1570.0 737.5L1582.1 733.5L1593.9 728.7L1605.5 723.2L1616.8 717.0L1627.9 710.1L1638.6 702.6L1648.9 694.4L1658.9 685.7L1668.5 676.3L1677.6 666.4L1686.2 656.0L1694.4 645.1L1702.0 633.7L1709.1 621.8L1715.7 609.5L1721.7 596.9L1727.1 583.9L1731.9 570.6L1736.1 557.1L1739.7 543.3L1742.6 529.3L1744.9 515.2L1746.5 500.9L1747.5 486.6L1747.9 472.2L1747.5 457.8L1746.5 443.5L1744.9 429.2L1742.6 415.1L1739.7 401.1L1736.1 387.3L1731.9 373.8L1727.1 360.5L1721.7 347.5L1715.7 334.9L1709.1 322.6L1702.0 310.7L1694.4 299.3L1686.2 288.4L1677.6 278.0L1668.5 268.1L1658.9 258.7L1648.9 250.0L1638.6 241.8L1627.9 234.3L1616.8 227.4L1605.5 221.2L1593.9 215.7L1582.1 210.9L1570.0 206.9L1557.8 203.5L1545.4 200.9L1533.0 199.0L1520.5 197.9L1507.9 197.5"/></g>
<circle cx="1507.9" cy="472.2" r="275.2" fill="none" stroke="#000" stroke-width="1.9" clip-path="url(#rthin)"/>
<rect x="1429.5" y="208.5" width="13" height="81.5" fill="none" stroke="#000" stroke-width="1.8"/>
<text x="1504.4" y="489.3" class="lb">X</text>
<text class="tx" font-size="50" font-style="normal" transform="translate(1123.15 99.6) scale(0.862 1.094)">%</text><text class="tx" font-size="50" font-style="italic" transform="translate(1163.40 107.9) scale(0.974 1.337)">/</text><text class="tx" font-size="50" font-style="italic" transform="translate(1184.00 98.7) scale(1.09 0.955)">μ</text><text class="tx" font-size="50" font-style="italic" transform="translate(1210.60 98.2) scale(1.14 0.911)">m</text>
<rect x="1957.0" y="58.3" width="72.2" height="829.2" fill="url(#jet)"/><rect x="1958.0" y="59.349999999999994" width="68.2" height="827.1" fill="none" stroke="url(#jetb)" stroke-width="2.1"/><text transform="translate(2046.6 903.1) scale(.915 1)" class="tk">0</text><path d="M2020.4 770.0h5" stroke="url(#jetb)" stroke-width="2.1"/><text transform="translate(2046.6 784.8) scale(.915 1)" class="tk">50</text><path d="M2020.4 651.2h5" stroke="url(#jetb)" stroke-width="2.1"/><text transform="translate(2046.6 666.4) scale(.915 1)" class="tk">100</text><path d="M2020.4 532.5h5" stroke="url(#jetb)" stroke-width="2.1"/><text transform="translate(2046.6 548.0) scale(.915 1)" class="tk">150</text><path d="M2020.4 413.7h5" stroke="url(#jetb)" stroke-width="2.1"/><text transform="translate(2046.6 429.6) scale(.915 1)" class="tk">200</text><path d="M2020.4 294.9h5" stroke="url(#jetb)" stroke-width="2.1"/><text transform="translate(2046.6 311.3) scale(.915 1)" class="tk">250</text><path d="M2020.4 176.1h5" stroke="url(#jetb)" stroke-width="2.1"/><text transform="translate(2046.6 192.9) scale(.915 1)" class="tk">300</text><text transform="translate(2046.6 74.5) scale(.915 1)" class="tk">350</text></g>
</svg>
</body></html>
